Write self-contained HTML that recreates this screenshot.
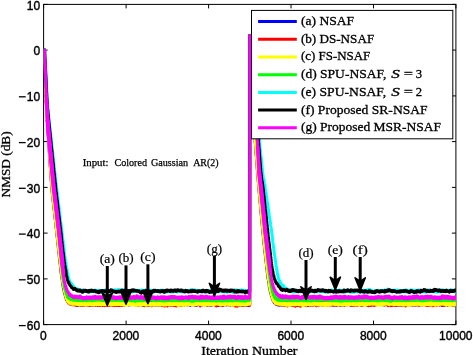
<!DOCTYPE html><html><head><meta charset="utf-8"><style>html,body{margin:0;padding:0;background:#fff}svg{display:block;will-change:transform}text{font-family:"Liberation Sans",sans-serif;fill:#000;stroke:#000;stroke-width:.4px}.s{font-family:"Liberation Serif",serif;stroke-width:.3px}</style></head><body>
<svg width="473" height="355" viewBox="0 0 473 355">
<rect width="473" height="355" fill="#fff"/>
<defs><clipPath id="c"><rect x="43.6" y="4.4" width="412.3" height="320.2"/></clipPath></defs>
<g stroke="#000" stroke-width="1" fill="none">
<rect x="43.6" y="4.4" width="412.3" height="320.2"/>
<path d="M43.6 324.6v-4.0 M43.6 4.4v4.0"/>
<path d="M126.1 324.6v-4.0 M126.1 4.4v4.0"/>
<path d="M208.6 324.6v-4.0 M208.6 4.4v4.0"/>
<path d="M291.0 324.6v-4.0 M291.0 4.4v4.0"/>
<path d="M373.5 324.6v-4.0 M373.5 4.4v4.0"/>
<path d="M455.9 324.6v-4.0 M455.9 4.4v4.0"/>
<path d="M43.6 324.6h4.0 M455.9 324.6h-4.0"/>
<path d="M43.6 278.9h4.0 M455.9 278.9h-4.0"/>
<path d="M43.6 233.1h4.0 M455.9 233.1h-4.0"/>
<path d="M43.6 187.4h4.0 M455.9 187.4h-4.0"/>
<path d="M43.6 141.6h4.0 M455.9 141.6h-4.0"/>
<path d="M43.6 95.9h4.0 M455.9 95.9h-4.0"/>
<path d="M43.6 50.1h4.0 M455.9 50.1h-4.0"/>
<path d="M43.6 4.4h4.0 M455.9 4.4h-4.0"/>
</g>
<g clip-path="url(#c)" fill="none" stroke-width="3" stroke-linejoin="round">
<polyline stroke="#0000ff" points="43.6,50.1 43.8,50.1 44.0,50.1 44.1,50.1 44.3,50.1 44.5,50.1 44.6,53.1 44.7,59.2 44.8,62.5 45.0,66.3 45.2,70.7 45.3,75.5 45.5,80.8 45.6,84.5 45.7,85.8 45.8,90.5 46.0,94.9 46.2,99.1 46.3,103.0 46.5,106.7 46.6,109.2 46.7,110.1 46.8,113.2 47.0,116.0 47.2,118.6 47.3,121.1 47.5,123.6 47.6,126.1 47.7,126.7 47.9,129.2 48.0,131.7 48.2,134.2 48.4,136.7 48.5,139.2 48.6,141.1 48.7,141.7 48.8,144.2 49.0,146.7 49.2,149.2 49.3,151.7 49.5,154.2 49.6,156.1 49.7,156.7 49.8,159.2 50.0,161.7 50.2,164.2 50.3,166.7 50.5,169.2 50.6,171.1 50.7,171.7 50.8,174.2 51.0,176.7 51.2,179.0 51.3,181.3 51.5,183.4 51.6,185.5 51.7,186.0 51.9,187.9 52.0,189.8 52.2,191.5 52.3,193.1 52.5,194.7 52.6,195.7 52.7,196.1 52.8,197.5 53.0,199.1 53.2,200.5 53.3,202.0 53.5,203.6 53.6,204.4 53.7,204.9 53.8,206.2 54.0,208.1 54.2,209.3 54.3,210.7 54.5,212.1 54.6,213.6 54.7,213.6 54.8,215.3 55.0,216.7 55.2,218.2 55.3,219.8 55.5,221.1 55.6,222.8 55.7,223.1 55.9,224.3 56.0,226.0 56.2,227.4 56.3,228.9 56.5,230.4 56.6,231.9 56.7,231.7 56.8,232.8 57.0,235.1 57.2,236.3 57.3,237.7 57.5,239.4 57.6,240.7 57.7,240.9 57.8,242.2 58.0,244.0 58.2,245.7 58.3,248.0 58.5,248.8 58.6,250.1 58.7,250.3 58.8,251.4 59.0,253.0 59.2,254.9 59.3,256.8 59.5,258.5 59.6,259.6 59.7,259.9 59.9,261.3 60.0,262.4 60.2,263.6 60.3,264.9 60.5,267.1 60.6,267.8 60.6,267.4 60.7,267.7 60.8,269.4 61.0,270.9 61.2,272.9 61.3,273.9 61.5,275.0 61.6,276.5 61.7,276.2 61.7,275.8 61.8,277.5 62.0,278.2 62.2,279.2 62.3,280.7 62.5,282.2 62.6,283.1 62.6,282.9 62.7,282.1 62.8,284.4 63.0,285.2 63.2,286.4 63.3,286.9 63.5,287.3 63.6,289.3 63.9,288.2 64.4,293.0 64.9,293.0 65.4,296.2 65.9,295.7 66.4,299.4 66.9,297.9 67.4,300.6 67.9,299.0 68.4,302.1 68.9,301.0 69.4,302.5 69.9,301.4 70.4,303.3 70.9,300.7 71.4,303.7 71.9,302.1 72.4,303.9 72.9,302.6 73.4,304.3 73.9,302.6 74.4,304.5 74.9,303.0 75.4,304.2 75.9,302.4 76.4,304.7 76.9,303.3 77.4,305.4 77.9,303.0 78.4,304.8 78.9,302.8 79.4,305.2 79.9,303.4 80.4,305.1 80.9,303.2 81.4,305.2 81.9,302.9 82.4,305.1 82.9,302.6 83.4,304.2 83.9,302.7 84.4,304.3 84.9,302.5 85.4,304.6 85.9,302.6 86.4,304.6 86.9,302.6 87.4,304.9 87.9,302.4 88.4,304.5 88.9,302.8 89.4,304.7 89.9,302.8 90.4,305.4 90.9,303.3 91.4,305.0 91.9,302.6 92.4,304.8 92.9,303.2 93.4,304.8 93.9,303.2 94.4,304.8 94.9,303.0 95.4,304.8 95.9,303.3 96.4,305.6 96.9,303.0 97.4,305.4 97.9,303.6 98.4,305.0 98.9,302.7 99.4,304.8 99.9,302.9 100.4,305.0 100.9,302.7 101.4,304.3 101.9,303.0 102.4,305.3 102.9,303.1 103.4,304.9 103.9,302.3 104.4,305.1 104.9,303.0 105.4,304.9 105.9,302.8 106.4,304.7 106.9,303.0 107.4,305.0 107.9,302.7 108.4,304.5 108.9,302.6 109.4,304.1 109.9,302.3 110.4,303.9 110.9,301.9 111.4,304.5 111.9,302.6 112.4,304.6 112.9,302.9 113.4,304.9 113.9,303.4 114.4,305.0 114.9,303.0 115.4,304.8 115.9,303.0 116.4,305.0 116.9,303.2 117.4,305.0 117.9,303.5 118.4,305.2 118.9,303.5 119.4,305.2 119.9,303.2 120.4,304.9 120.9,303.1 121.4,304.9 121.9,302.9 122.4,304.4 122.9,302.2 123.4,304.4 123.9,302.4 124.4,304.9 124.9,302.7 125.4,304.6 125.9,302.3 126.4,304.1 126.9,302.5 127.4,304.4 127.9,303.3 128.4,304.8 128.9,302.8 129.4,304.8 129.9,302.8 130.4,304.6 130.9,302.5 131.4,304.4 131.9,302.3 132.4,304.4 132.9,302.7 133.4,304.5 133.9,302.3 134.4,303.9 134.9,303.1 135.4,304.9 135.9,303.4 136.4,305.1 136.9,302.9 137.4,304.9 137.9,302.5 138.4,304.3 138.9,302.7 139.4,304.1 139.9,302.3 140.4,304.4 140.9,302.7 141.4,304.5 141.9,303.4 142.4,305.0 142.9,303.0 143.4,304.9 143.9,303.1 144.4,305.1 144.9,303.0 145.4,304.8 145.9,303.2 146.4,305.0 146.9,303.1 147.4,304.7 147.9,303.0 148.4,305.2 148.9,303.2 149.4,305.3 149.9,302.7 150.4,304.7 150.9,302.6 151.4,304.6 151.9,302.6 152.4,304.5 152.9,302.2 153.4,303.9 153.9,302.4 154.4,304.3 154.9,303.0 155.4,305.1 155.9,303.5 156.4,305.0 156.9,303.1 157.4,305.0 157.9,302.9 158.4,304.6 158.9,303.1 159.4,304.7 159.9,302.5 160.4,304.5 160.9,302.7 161.4,304.9 161.9,303.4 162.4,305.0 162.9,303.4 163.4,304.9 163.9,303.3 164.4,305.1 164.9,303.2 165.4,304.5 165.9,302.9 166.4,304.7 166.9,302.6 167.4,304.9 167.9,303.1 168.4,304.9 168.9,302.9 169.4,304.8 169.9,303.4 170.4,304.9 170.9,303.1 171.4,304.9 171.9,302.8 172.4,304.6 172.9,302.6 173.4,304.4 173.9,303.0 174.4,304.7 174.9,302.1 175.4,304.5 175.9,302.6 176.4,304.2 176.9,303.0 177.4,304.6 177.9,302.9 178.4,304.7 178.9,302.9 179.4,304.9 179.9,303.2 180.4,305.0 180.9,302.7 181.4,304.9 181.9,303.1 182.4,304.6 182.9,303.1 183.4,304.6 183.9,302.6 184.4,304.8 184.9,302.5 185.4,304.3 185.9,302.6 186.4,304.5 186.9,301.7 187.4,304.2 187.9,302.3 188.4,303.6 188.9,301.6 189.4,304.3 189.9,302.7 190.4,305.4 190.9,302.8 191.4,304.4 191.9,302.8 192.4,304.7 192.9,303.3 193.4,304.5 193.9,302.6 194.4,304.6 194.9,303.0 195.4,305.2 195.9,303.3 196.4,305.5 196.9,302.9 197.4,304.6 197.9,302.9 198.4,304.6 198.9,302.2 199.4,304.3 199.9,301.7 200.4,304.5 200.9,302.4 201.4,304.6 201.9,303.1 202.4,304.9 202.9,302.9 203.4,304.2 203.9,302.6 204.4,304.1 204.9,302.6 205.4,304.7 205.9,302.8 206.4,304.8 206.9,302.5 207.4,305.3 207.9,302.8 208.4,304.8 208.9,303.0 209.4,304.8 209.9,302.7 210.4,304.7 210.9,303.0 211.4,305.0 211.9,302.8 212.4,304.9 212.9,302.7 213.4,304.4 213.9,302.7 214.4,304.1 214.9,302.5 215.4,304.5 215.9,302.4 216.4,304.4 216.9,303.0 217.4,304.9 217.9,302.7 218.4,305.4 218.9,302.4 219.4,304.4 219.9,302.6 220.4,304.4 220.9,302.0 221.4,304.6 221.9,302.9 222.4,304.6 222.9,302.6 223.4,305.3 223.9,302.8 224.4,304.6 224.9,302.9 225.4,304.6 225.9,302.8 226.4,304.7 226.9,302.1 227.4,303.8 227.9,302.3 228.4,304.6 228.9,302.7 229.4,304.8 229.9,303.0 230.4,305.0 230.9,302.9 231.4,304.4 231.9,302.3 232.4,304.4 232.9,302.9 233.4,304.5 233.9,303.1 234.4,304.9 234.9,302.8 235.4,304.9 235.9,303.3 236.4,305.2 236.9,303.7 237.4,305.4 237.9,303.7 238.4,305.5 238.9,303.2 239.4,304.5 239.9,303.1 240.4,304.8 240.9,303.1 241.4,305.3 241.9,303.1 242.4,305.2 242.9,302.9 243.4,305.1 243.9,303.2 244.4,305.2 244.9,303.0 245.4,304.5 245.9,302.9 246.4,304.8 246.9,303.3 247.4,305.5 247.9,303.6 248.4,305.6 248.9,303.6 249.4,305.3 249.7,304.8 249.8,35.5 249.8,36.3 250.0,39.6 250.2,42.8 250.3,46.1 250.5,49.4 250.6,51.8 250.7,52.6 250.8,55.9 251.0,59.2 251.2,62.4 251.3,65.7 251.5,69.0 251.6,71.4 251.7,72.2 251.8,75.5 252.0,78.7 252.2,82.0 252.3,85.3 252.5,88.5 252.6,91.8 252.7,92.6 252.9,95.9 253.0,99.1 253.2,102.4 253.3,105.7 253.5,108.9 253.6,111.4 253.7,112.2 253.8,115.5 254.0,118.7 254.2,122.0 254.3,125.2 254.5,128.3 254.6,130.5 254.7,131.3 254.8,134.2 255.0,136.9 255.2,139.6 255.3,142.1 255.5,144.6 255.6,146.3 255.7,146.9 255.8,149.1 256.0,151.3 256.1,153.4 256.3,155.5 256.5,157.7 256.6,159.8 256.7,160.3 256.9,162.4 257.0,164.6 257.2,166.7 257.3,168.8 257.5,170.9 257.6,172.5 257.7,173.1 257.8,175.2 258.0,177.3 258.2,179.4 258.3,181.5 258.5,183.5 258.6,185.0 258.7,185.5 258.8,187.5 259.0,189.4 259.2,191.3 259.3,193.2 259.5,195.0 259.6,196.3 259.7,196.8 259.8,198.4 260.0,200.4 260.1,201.9 260.3,204.0 260.5,205.6 260.6,207.4 260.7,207.9 260.8,209.8 261.0,211.5 261.2,213.3 261.3,215.4 261.5,216.8 261.6,218.4 261.7,218.8 261.8,220.3 262.0,222.3 262.2,224.1 262.3,225.7 262.5,227.8 262.6,229.2 262.7,229.3 262.8,231.6 263.0,233.0 263.2,234.6 263.3,236.4 263.5,237.9 263.6,238.8 263.7,240.0 263.8,241.3 264.0,242.5 264.1,244.6 264.3,245.5 264.5,247.7 264.6,248.7 264.6,248.4 264.7,249.4 264.7,248.9 264.8,250.9 265.0,252.1 265.2,253.3 265.3,254.8 265.5,256.7 265.6,257.2 265.6,256.7 265.7,258.2 265.8,259.2 266.0,260.3 266.2,261.8 266.3,262.9 266.5,264.1 266.6,265.9 266.7,266.8 266.7,266.4 266.8,268.6 267.0,268.4 267.2,270.2 267.3,272.7 267.5,273.0 267.5,274.5 267.6,274.1 267.7,275.5 267.7,275.1 267.8,276.4 268.0,277.9 268.1,278.6 268.3,279.4 268.5,280.9 268.6,282.4 268.9,281.9 269.4,287.7 269.9,288.1 270.4,292.2 270.9,292.5 271.4,295.8 271.9,295.7 272.4,299.3 272.9,298.6 273.4,301.2 273.9,300.3 274.4,302.7 274.9,301.4 275.4,303.7 275.9,302.0 276.4,304.1 276.9,302.5 277.4,304.6 277.9,302.7 278.4,305.0 278.9,303.1 279.4,305.1 279.9,302.7 280.4,304.8 280.9,303.0 281.4,305.0 281.9,302.6 282.4,304.6 282.9,302.4 283.4,304.5 283.9,302.7 284.4,305.0 284.9,302.6 285.4,304.4 285.9,302.2 286.4,304.2 286.9,302.6 287.4,304.3 287.9,302.5 288.4,304.4 288.9,302.4 289.4,303.9 289.9,302.2 290.4,304.3 290.9,302.4 291.4,304.2 291.9,303.0 292.4,304.7 292.9,303.7 293.4,305.3 293.9,303.4 294.4,305.3 294.9,303.0 295.4,305.2 295.9,303.6 296.4,304.5 296.9,303.2 297.4,305.5 297.9,303.7 298.4,305.3 298.9,302.4 299.4,304.8 299.9,302.5 300.4,304.7 300.9,303.4 301.4,304.7 301.9,303.5 302.4,305.3 302.9,302.7 303.4,304.4 303.9,301.8 304.4,304.3 304.9,302.8 305.4,305.3 305.9,302.9 306.4,305.5 306.9,302.8 307.4,304.9 307.9,302.5 308.4,305.3 308.9,301.8 309.4,304.4 309.9,302.1 310.4,304.3 310.9,302.6 311.4,304.2 311.9,303.3 312.4,304.7 312.9,302.8 313.4,304.9 313.9,302.9 314.4,304.4 314.9,302.4 315.4,304.0 315.9,302.8 316.4,304.6 316.9,302.9 317.4,304.5 317.9,303.0 318.4,304.6 318.9,302.7 319.4,304.7 319.9,303.3 320.4,304.6 320.9,302.9 321.4,304.2 321.9,303.1 322.4,305.2 322.9,302.7 323.4,305.5 323.9,302.9 324.4,305.4 324.9,302.8 325.4,305.3 325.9,302.8 326.4,304.7 326.9,302.6 327.4,304.4 327.9,302.8 328.4,304.3 328.9,303.2 329.4,304.2 329.9,302.7 330.4,304.4 330.9,302.5 331.4,304.5 331.9,302.7 332.4,304.6 332.9,302.6 333.4,305.0 333.9,303.0 334.4,305.1 334.9,302.9 335.4,305.1 335.9,302.5 336.4,305.6 336.9,303.2 337.4,304.8 337.9,302.7 338.4,304.8 338.9,303.3 339.4,305.1 339.9,302.5 340.4,305.2 340.9,302.3 341.4,304.6 341.9,303.2 342.4,304.6 342.9,302.8 343.4,304.4 343.9,303.0 344.4,305.1 344.9,302.1 345.4,304.5 345.9,302.6 346.4,304.5 346.9,303.1 347.4,304.6 347.9,302.2 348.4,304.4 348.9,302.7 349.4,304.3 349.9,303.4 350.4,305.0 350.9,302.8 351.4,304.7 351.9,302.8 352.4,304.6 352.9,303.1 353.4,304.9 353.9,302.6 354.4,304.4 354.9,303.0 355.4,304.3 355.9,302.6 356.4,304.6 356.9,302.2 357.4,304.9 357.9,302.5 358.4,304.3 358.9,302.7 359.4,304.5 359.9,303.0 360.4,305.0 360.9,303.2 361.4,304.8 361.9,303.1 362.4,305.3 362.9,302.5 363.4,304.8 363.9,302.1 364.4,304.7 364.9,302.2 365.4,304.2 365.9,302.3 366.4,304.4 366.9,302.7 367.4,304.3 367.9,302.1 368.4,304.4 368.9,303.3 369.4,304.9 369.9,303.0 370.4,305.0 370.9,302.7 371.4,305.1 371.9,303.0 372.4,304.5 372.9,302.8 373.4,304.6 373.9,303.1 374.4,305.0 374.9,302.6 375.4,304.6 375.9,302.7 376.4,304.5 376.9,302.4 377.4,304.1 377.9,301.7 378.4,304.5 378.9,302.2 379.4,304.2 379.9,302.0 380.4,304.2 380.9,302.3 381.4,304.2 381.9,302.7 382.4,304.6 382.9,302.8 383.4,304.0 383.9,302.7 384.4,304.9 384.9,302.1 385.4,304.5 385.9,302.8 386.4,304.1 386.9,302.6 387.4,304.6 387.9,302.8 388.4,304.8 388.9,302.5 389.4,304.7 389.9,302.6 390.4,305.0 390.9,303.0 391.4,304.6 391.9,302.7 392.4,304.9 392.9,302.9 393.4,304.8 393.9,303.1 394.4,304.9 394.9,303.0 395.4,304.7 395.9,302.4 396.4,305.2 396.9,302.8 397.4,304.7 397.9,303.1 398.4,305.0 398.9,302.9 399.4,305.3 399.9,302.5 400.4,304.8 400.9,302.5 401.4,305.2 401.9,303.0 402.4,304.8 402.9,303.5 403.4,305.4 403.9,303.6 404.4,305.1 404.9,302.8 405.4,304.6 405.9,301.8 406.4,304.7 406.9,302.7 407.4,304.2 407.9,302.7 408.4,304.3 408.9,303.0 409.4,304.3 409.9,302.5 410.4,304.5 410.9,303.1 411.4,305.1 411.9,302.3 412.4,305.3 412.9,302.8 413.4,304.3 413.9,302.9 414.4,304.5 414.9,303.1 415.4,305.1 415.9,303.3 416.4,305.0 416.9,302.7 417.4,304.6 417.9,302.6 418.4,304.7 418.9,303.1 419.4,305.2 419.9,302.6 420.4,304.3 420.9,303.4 421.4,304.9 421.9,302.2 422.4,304.5 422.9,302.9 423.4,304.5 423.9,302.8 424.4,304.4 424.9,302.7 425.4,304.4 425.9,302.6 426.4,304.6 426.9,302.4 427.4,304.8 427.9,302.0 428.4,304.0 428.9,301.7 429.4,304.6 429.9,302.4 430.4,304.8 430.9,303.2 431.4,304.8 431.9,302.9 432.4,304.8 432.9,303.3 433.4,305.4 433.9,302.7 434.4,304.7 434.9,302.8 435.4,304.3 435.9,303.1 436.4,305.2 436.9,302.8 437.4,304.5 437.9,302.3 438.4,304.4 438.9,303.2 439.4,305.0 439.9,302.7 440.4,304.1 440.9,302.6 441.4,304.5 441.9,303.3 442.4,305.4 442.9,303.2 443.4,305.2 443.9,303.5 444.4,304.9 444.9,303.6 445.4,305.0 445.9,303.0 446.4,304.9 446.9,302.7 447.4,305.2 447.9,303.0 448.4,304.5 448.9,303.1 449.4,304.3 449.9,302.7 450.4,304.2 450.9,302.4 451.4,304.3 451.9,302.3 452.4,304.7 452.9,303.3 453.4,305.1 453.9,303.1 454.4,305.1 454.9,303.5 455.4,305.6 455.9,303.6 456.4,304.8"/>
<polyline stroke="#ff0000" points="43.6,50.1 43.8,50.1 44.0,50.1 44.1,50.1 44.3,50.1 44.5,50.1 44.6,52.8 44.7,58.9 44.8,62.2 45.0,66.0 45.2,70.2 45.3,75.0 45.5,80.2 45.6,84.0 45.7,85.2 45.8,89.9 46.0,94.4 46.2,98.5 46.3,102.5 46.5,106.1 46.6,108.7 46.7,109.5 46.8,112.6 47.0,115.5 47.2,118.0 47.3,120.5 47.5,123.0 47.6,125.5 47.7,126.1 47.9,128.6 48.0,131.0 48.2,133.5 48.4,136.0 48.5,138.5 48.6,140.3 48.7,140.9 48.8,143.4 49.0,145.9 49.2,148.4 49.3,150.8 49.5,153.3 49.6,155.2 49.7,155.8 49.8,158.3 50.0,160.7 50.2,163.2 50.3,165.7 50.5,168.2 50.6,170.0 50.7,170.6 50.8,173.1 51.0,175.6 51.2,178.0 51.3,180.2 51.5,182.4 51.6,184.5 51.7,185.0 51.9,187.0 52.0,188.9 52.2,190.7 52.3,192.3 52.5,193.9 52.6,195.0 52.7,195.4 52.8,196.9 53.0,198.4 53.2,199.8 53.3,201.2 53.5,202.6 53.6,203.9 53.7,204.3 53.8,205.7 54.0,207.2 54.2,208.4 54.3,209.9 54.5,211.3 54.6,212.7 54.7,212.8 54.8,214.3 55.0,215.7 55.2,217.1 55.3,218.8 55.5,220.1 55.6,221.6 55.7,221.6 55.9,223.4 56.0,224.9 56.2,226.0 56.3,227.8 56.5,229.1 56.6,230.1 56.6,229.8 56.7,230.6 56.8,232.0 57.0,233.4 57.2,235.3 57.3,236.5 57.5,238.2 57.6,239.5 57.7,240.0 57.8,241.2 58.0,242.9 58.2,244.5 58.3,245.2 58.5,246.6 58.6,248.4 58.7,249.2 58.7,248.4 58.8,250.5 59.0,252.5 59.2,253.0 59.3,254.7 59.5,255.7 59.6,257.3 59.7,257.5 59.9,260.2 60.0,261.3 60.2,262.3 60.3,263.6 60.5,265.3 60.6,266.5 60.7,266.9 60.7,266.4 60.8,268.1 61.0,269.7 61.2,271.1 61.3,272.8 61.5,273.6 61.6,274.2 61.6,274.1 61.7,274.5 61.7,274.2 61.8,274.7 62.0,276.9 62.2,278.0 62.3,279.3 62.5,280.4 62.6,281.1 62.9,281.8 63.4,287.1 63.9,287.1 64.4,292.1 64.9,292.0 65.4,296.1 65.9,295.3 66.4,299.5 66.9,298.4 67.4,301.6 67.9,300.3 68.4,303.1 68.9,301.0 69.4,303.2 69.9,302.0 70.4,304.3 70.9,302.3 71.4,304.4 71.9,302.5 72.4,304.6 72.9,302.7 73.4,304.8 73.9,303.0 74.4,304.5 74.9,302.7 75.4,305.2 75.9,302.7 76.4,305.0 76.9,303.3 77.4,305.3 77.9,303.2 78.4,304.9 78.9,302.3 79.4,304.6 79.9,302.9 80.4,305.1 80.9,303.2 81.4,305.0 81.9,303.1 82.4,305.4 82.9,302.9 83.4,305.3 83.9,303.0 84.4,305.1 84.9,302.5 85.4,304.8 85.9,303.0 86.4,304.7 86.9,303.5 87.4,305.1 87.9,303.2 88.4,305.5 88.9,303.3 89.4,305.6 89.9,303.0 90.4,304.9 90.9,302.8 91.4,304.7 91.9,303.4 92.4,305.2 92.9,303.0 93.4,305.3 93.9,302.9 94.4,304.4 94.9,302.6 95.4,304.8 95.9,303.4 96.4,305.6 96.9,303.3 97.4,305.1 97.9,302.9 98.4,305.1 98.9,302.6 99.4,305.2 99.9,302.9 100.4,305.5 100.9,303.2 101.4,304.8 101.9,302.8 102.4,305.2 102.9,303.2 103.4,305.6 103.9,303.6 104.4,305.6 104.9,303.6 105.4,305.3 105.9,303.9 106.4,305.5 106.9,303.2 107.4,305.4 107.9,302.5 108.4,305.1 108.9,303.1 109.4,305.2 109.9,302.2 110.4,305.0 110.9,302.4 111.4,305.3 111.9,303.1 112.4,305.2 112.9,303.1 113.4,305.1 113.9,303.6 114.4,305.6 114.9,303.7 115.4,305.3 115.9,302.4 116.4,305.2 116.9,302.6 117.4,304.4 117.9,303.2 118.4,305.4 118.9,303.3 119.4,305.6 119.9,302.7 120.4,305.2 120.9,302.9 121.4,304.4 121.9,303.3 122.4,305.5 122.9,303.1 123.4,304.7 123.9,303.0 124.4,304.6 124.9,302.6 125.4,304.3 125.9,302.5 126.4,304.6 126.9,302.9 127.4,304.5 127.9,302.9 128.4,304.9 128.9,302.8 129.4,304.5 129.9,302.1 130.4,304.5 130.9,302.4 131.4,304.8 131.9,302.9 132.4,304.4 132.9,302.2 133.4,304.4 133.9,302.5 134.4,304.2 134.9,302.9 135.4,304.6 135.9,303.2 136.4,305.2 136.9,303.2 137.4,305.5 137.9,303.2 138.4,305.1 138.9,303.2 139.4,304.7 139.9,302.6 140.4,304.6 140.9,302.5 141.4,304.5 141.9,303.0 142.4,305.2 142.9,303.1 143.4,304.9 143.9,304.0 144.4,305.7 144.9,303.3 145.4,305.1 145.9,303.4 146.4,305.6 146.9,303.3 147.4,305.3 147.9,302.9 148.4,304.9 148.9,302.9 149.4,304.7 149.9,304.1 150.4,305.5 150.9,303.5 151.4,305.7 151.9,303.2 152.4,305.3 152.9,303.0 153.4,304.9 153.9,303.2 154.4,304.9 154.9,302.8 155.4,304.8 155.9,303.2 156.4,304.8 156.9,303.0 157.4,304.9 157.9,302.6 158.4,304.7 158.9,303.0 159.4,305.1 159.9,303.3 160.4,304.7 160.9,302.2 161.4,305.3 161.9,302.9 162.4,305.2 162.9,303.5 163.4,305.4 163.9,303.9 164.4,306.0 164.9,304.0 165.4,305.7 165.9,303.1 166.4,305.2 166.9,303.4 167.4,306.0 167.9,303.4 168.4,305.2 168.9,303.2 169.4,305.6 169.9,303.3 170.4,305.1 170.9,302.6 171.4,304.8 171.9,302.7 172.4,304.6 172.9,303.3 173.4,305.4 173.9,303.0 174.4,305.6 174.9,303.6 175.4,305.3 175.9,303.4 176.4,306.0 176.9,303.4 177.4,305.4 177.9,302.9 178.4,304.7 178.9,302.9 179.4,304.4 179.9,302.2 180.4,305.4 180.9,303.1 181.4,305.1 181.9,303.2 182.4,304.9 182.9,302.9 183.4,305.1 183.9,303.4 184.4,305.0 184.9,302.6 185.4,304.7 185.9,303.2 186.4,304.8 186.9,302.6 187.4,304.9 187.9,302.7 188.4,304.8 188.9,302.4 189.4,304.5 189.9,302.6 190.4,304.7 190.9,302.4 191.4,304.3 191.9,302.5 192.4,304.4 192.9,302.9 193.4,304.6 193.9,303.3 194.4,304.7 194.9,303.0 195.4,305.0 195.9,302.9 196.4,304.9 196.9,302.2 197.4,304.4 197.9,302.6 198.4,304.1 198.9,303.0 199.4,304.4 199.9,303.0 200.4,305.9 200.9,302.2 201.4,304.9 201.9,302.4 202.4,304.4 202.9,302.4 203.4,304.6 203.9,302.4 204.4,304.7 204.9,303.3 205.4,304.8 205.9,303.1 206.4,305.0 206.9,303.3 207.4,305.1 207.9,303.0 208.4,304.7 208.9,303.2 209.4,305.0 209.9,302.7 210.4,305.1 210.9,303.0 211.4,304.5 211.9,302.3 212.4,304.8 212.9,302.3 213.4,304.6 213.9,303.0 214.4,304.6 214.9,302.9 215.4,305.2 215.9,303.3 216.4,306.0 216.9,303.0 217.4,304.7 217.9,302.6 218.4,304.8 218.9,303.1 219.4,304.9 219.9,303.3 220.4,305.1 220.9,302.9 221.4,305.0 221.9,302.8 222.4,305.5 222.9,302.6 223.4,304.4 223.9,302.8 224.4,304.7 224.9,302.4 225.4,304.4 225.9,302.6 226.4,304.7 226.9,303.1 227.4,304.8 227.9,302.5 228.4,304.4 228.9,303.1 229.4,305.1 229.9,303.2 230.4,304.6 230.9,302.7 231.4,304.7 231.9,303.3 232.4,304.9 232.9,303.1 233.4,305.6 233.9,303.2 234.4,305.4 234.9,303.3 235.4,306.1 235.9,303.7 236.4,305.3 236.9,303.9 237.4,306.2 237.9,303.3 238.4,305.1 238.9,302.6 239.4,305.1 239.9,303.2 240.4,305.1 240.9,303.7 241.4,305.3 241.9,303.2 242.4,305.1 242.9,303.0 243.4,305.0 243.9,303.3 244.4,305.2 244.9,302.5 245.4,305.0 245.9,303.4 246.4,304.7 246.9,303.0 247.4,304.9 247.9,302.7 248.4,304.7 248.9,303.4 249.4,305.4 249.7,304.2 249.8,35.5 249.8,36.3 250.0,39.5 250.2,42.8 250.3,46.0 250.5,49.2 250.6,51.7 250.7,52.5 250.8,55.7 251.0,58.9 251.2,62.2 251.3,65.4 251.5,68.6 251.6,71.0 251.7,71.8 251.8,75.1 252.0,78.3 252.2,81.5 252.3,84.8 252.5,88.0 252.6,91.2 252.7,92.0 252.9,95.3 253.0,98.5 253.2,101.7 253.3,105.0 253.5,108.2 253.6,110.6 253.7,111.4 253.8,114.7 254.0,117.9 254.2,121.1 254.3,124.3 254.5,127.4 254.6,129.7 254.7,130.4 254.8,133.3 255.0,136.1 255.2,138.8 255.3,141.3 255.5,143.8 255.6,145.5 255.7,146.1 255.8,148.3 256.0,150.5 256.1,152.6 256.3,154.7 256.5,156.8 256.6,158.9 256.7,159.4 256.9,161.5 257.0,163.6 257.2,165.7 257.3,167.9 257.5,170.0 257.6,171.5 257.7,172.1 257.8,174.2 258.0,176.3 258.2,178.4 258.3,180.4 258.5,182.5 258.6,183.9 258.7,184.4 258.8,186.4 259.0,188.3 259.2,190.2 259.3,192.0 259.5,193.9 259.6,195.2 259.7,195.7 259.8,197.4 260.0,199.2 260.1,200.9 260.3,202.7 260.5,204.6 260.6,206.4 260.7,206.7 260.8,208.4 261.0,210.1 261.2,212.0 261.3,213.7 261.5,215.4 261.6,216.8 261.7,217.4 261.7,217.3 261.8,219.1 262.0,220.5 262.2,222.4 262.3,224.6 262.5,226.0 262.6,226.9 262.7,227.5 262.8,229.4 263.0,231.4 263.2,232.5 263.3,234.6 263.5,236.5 263.6,237.6 263.7,237.3 263.8,239.2 264.0,240.6 264.1,241.9 264.3,243.9 264.5,245.4 264.6,247.1 264.7,247.3 264.8,249.3 265.0,249.9 265.2,251.5 265.3,253.2 265.5,254.9 265.6,255.9 265.7,255.7 265.8,258.2 266.0,258.8 266.2,260.9 266.3,262.7 266.5,263.9 266.6,264.7 266.6,264.4 266.7,265.0 266.8,266.2 267.0,268.0 267.2,269.7 267.3,270.3 267.5,271.8 267.6,272.5 267.6,272.0 267.7,272.8 267.8,273.9 268.0,274.5 268.1,275.9 268.3,277.5 268.5,278.0 268.6,280.0 268.6,279.6 268.7,279.5 268.8,279.4 268.8,281.7 269.0,282.2 269.2,283.1 269.3,283.7 269.5,284.9 269.6,285.9 269.9,285.8 270.4,291.0 270.9,290.7 271.4,294.9 271.9,294.4 272.4,298.0 272.9,297.7 273.4,300.6 273.9,299.6 274.4,302.6 274.9,301.3 275.4,303.2 275.9,301.8 276.4,304.0 276.9,302.2 277.4,304.1 277.9,302.4 278.4,304.4 278.9,302.5 279.4,304.4 279.9,302.8 280.4,304.8 280.9,303.0 281.4,305.0 281.9,303.1 282.4,305.1 282.9,303.5 283.4,304.8 283.9,303.3 284.4,305.2 284.9,303.0 285.4,305.1 285.9,302.9 286.4,305.3 286.9,304.0 287.4,306.0 287.9,302.8 288.4,304.9 288.9,302.6 289.4,304.3 289.9,302.6 290.4,305.0 290.9,303.2 291.4,305.3 291.9,302.9 292.4,305.2 292.9,302.9 293.4,305.2 293.9,303.1 294.4,305.1 294.9,303.3 295.4,306.2 295.9,303.1 296.4,305.1 296.9,302.6 297.4,305.1 297.9,303.3 298.4,305.4 298.9,303.5 299.4,305.2 299.9,303.8 300.4,306.2 300.9,304.1 301.4,305.8 301.9,303.3 302.4,305.5 302.9,303.2 303.4,304.7 303.9,302.9 304.4,304.8 304.9,302.9 305.4,304.9 305.9,303.3 306.4,305.7 306.9,303.4 307.4,305.6 307.9,303.0 308.4,305.3 308.9,302.7 309.4,305.0 309.9,302.8 310.4,305.2 310.9,303.3 311.4,304.7 311.9,302.9 312.4,305.2 312.9,302.1 313.4,304.6 313.9,302.6 314.4,304.8 314.9,303.0 315.4,304.6 315.9,303.4 316.4,305.8 316.9,303.7 317.4,305.1 317.9,303.2 318.4,305.1 318.9,302.8 319.4,304.9 319.9,302.7 320.4,304.2 320.9,303.1 321.4,304.7 321.9,302.6 322.4,304.6 322.9,303.0 323.4,305.4 323.9,303.3 324.4,305.3 324.9,303.7 325.4,305.0 325.9,303.1 326.4,305.1 326.9,302.7 327.4,305.0 327.9,303.2 328.4,304.8 328.9,303.0 329.4,305.0 329.9,302.8 330.4,304.9 330.9,302.9 331.4,305.0 331.9,302.9 332.4,305.1 332.9,303.0 333.4,304.4 333.9,302.7 334.4,304.9 334.9,302.8 335.4,304.7 335.9,302.9 336.4,305.3 336.9,302.8 337.4,304.8 337.9,302.9 338.4,304.7 338.9,303.3 339.4,304.9 339.9,303.2 340.4,304.7 340.9,302.9 341.4,304.9 341.9,303.3 342.4,305.4 342.9,303.2 343.4,304.5 343.9,302.8 344.4,304.9 344.9,302.8 345.4,304.6 345.9,302.9 346.4,305.0 346.9,302.5 347.4,304.8 347.9,302.3 348.4,304.5 348.9,302.7 349.4,304.4 349.9,302.5 350.4,304.9 350.9,303.0 351.4,305.3 351.9,303.4 352.4,305.1 352.9,303.4 353.4,304.8 353.9,303.2 354.4,305.6 354.9,303.4 355.4,305.5 355.9,302.6 356.4,305.0 356.9,302.5 357.4,304.9 357.9,302.8 358.4,304.9 358.9,302.8 359.4,304.8 359.9,302.0 360.4,304.3 360.9,302.2 361.4,305.2 361.9,303.0 362.4,304.6 362.9,302.5 363.4,305.1 363.9,302.5 364.4,304.5 364.9,302.7 365.4,304.5 365.9,303.0 366.4,304.9 366.9,303.3 367.4,305.0 367.9,303.3 368.4,305.7 368.9,303.4 369.4,305.2 369.9,303.8 370.4,305.4 370.9,303.1 371.4,304.9 371.9,302.7 372.4,304.9 372.9,303.4 373.4,304.9 373.9,302.9 374.4,305.4 374.9,302.8 375.4,304.3 375.9,302.4 376.4,304.7 376.9,302.6 377.4,304.3 377.9,302.9 378.4,304.5 378.9,302.8 379.4,304.2 379.9,301.7 380.4,304.7 380.9,302.2 381.4,303.8 381.9,302.5 382.4,304.7 382.9,303.3 383.4,304.8 383.9,303.0 384.4,304.4 384.9,303.1 385.4,304.9 385.9,302.2 386.4,304.8 386.9,302.8 387.4,304.8 387.9,303.3 388.4,305.7 388.9,303.2 389.4,305.2 389.9,302.6 390.4,304.9 390.9,303.5 391.4,305.6 391.9,303.4 392.4,305.2 392.9,303.1 393.4,304.8 393.9,303.1 394.4,305.2 394.9,303.0 395.4,305.3 395.9,303.0 396.4,305.1 396.9,302.7 397.4,305.2 397.9,302.6 398.4,305.1 398.9,302.8 399.4,304.8 399.9,303.2 400.4,305.0 400.9,302.4 401.4,305.3 401.9,303.0 402.4,305.2 402.9,302.3 403.4,305.1 403.9,303.4 404.4,305.5 404.9,304.0 405.4,306.0 405.9,303.0 406.4,305.0 406.9,303.1 407.4,304.8 407.9,303.1 408.4,304.8 408.9,302.7 409.4,304.6 409.9,302.9 410.4,304.8 410.9,303.1 411.4,305.1 411.9,302.9 412.4,305.0 412.9,302.5 413.4,304.9 413.9,303.3 414.4,304.8 414.9,303.1 415.4,305.0 415.9,303.0 416.4,304.9 416.9,303.1 417.4,304.5 417.9,303.0 418.4,304.8 418.9,303.2 419.4,305.2 419.9,303.3 420.4,304.6 420.9,302.5 421.4,304.4 421.9,302.9 422.4,305.1 422.9,302.5 423.4,304.6 423.9,303.1 424.4,304.6 424.9,302.8 425.4,305.0 425.9,303.1 426.4,304.8 426.9,302.5 427.4,305.4 427.9,303.1 428.4,304.5 428.9,302.9 429.4,305.4 429.9,303.3 430.4,304.8 430.9,303.0 431.4,304.9 431.9,303.7 432.4,305.7 432.9,303.5 433.4,305.5 433.9,302.4 434.4,305.3 434.9,303.3 435.4,305.5 435.9,303.6 436.4,305.4 436.9,302.9 437.4,304.8 437.9,302.9 438.4,304.8 438.9,303.1 439.4,304.5 439.9,303.1 440.4,304.7 440.9,303.0 441.4,305.2 441.9,302.9 442.4,304.6 442.9,302.6 443.4,304.8 443.9,302.9 444.4,305.4 444.9,303.0 445.4,304.6 445.9,303.1 446.4,304.6 446.9,302.6 447.4,304.3 447.9,302.6 448.4,304.6 448.9,302.9 449.4,305.2 449.9,302.7 450.4,305.1 450.9,302.6 451.4,304.7 451.9,302.9 452.4,305.1 452.9,303.2 453.4,305.1 453.9,303.2 454.4,305.2 454.9,303.2 455.4,304.8 455.9,303.2 456.4,305.3"/>
<polyline stroke="#ffff00" points="43.6,50.1 43.8,50.1 44.0,50.1 44.1,50.1 44.3,50.1 44.5,50.1 44.6,52.8 44.7,58.9 44.8,62.2 45.0,66.0 45.2,70.2 45.3,75.0 45.5,80.2 45.6,84.0 45.7,85.2 45.8,89.9 46.0,94.4 46.2,98.5 46.3,102.5 46.5,106.1 46.6,108.7 46.7,109.5 46.8,112.6 47.0,115.5 47.2,118.0 47.3,120.5 47.5,123.0 47.6,125.5 47.7,126.1 47.9,128.6 48.0,131.0 48.2,133.5 48.4,136.0 48.5,138.5 48.6,140.3 48.7,140.9 48.8,143.4 49.0,145.9 49.2,148.4 49.3,150.8 49.5,153.3 49.6,155.2 49.7,155.8 49.8,158.3 50.0,160.7 50.2,163.2 50.3,165.7 50.5,168.2 50.6,170.0 50.7,170.6 50.8,173.1 51.0,175.6 51.2,178.0 51.3,180.2 51.5,182.4 51.6,184.5 51.7,185.0 51.9,187.0 52.0,188.9 52.2,190.7 52.3,192.3 52.5,193.8 52.6,195.0 52.7,195.3 52.8,196.8 53.0,198.2 53.2,199.8 53.3,201.2 53.5,202.6 53.6,203.8 53.7,204.1 53.8,205.6 54.0,207.0 54.2,208.4 54.3,209.8 54.5,211.4 54.6,212.3 54.7,212.7 54.8,214.1 55.0,215.5 55.2,217.0 55.3,218.8 55.5,220.0 55.6,221.6 55.7,221.7 55.9,223.3 56.0,224.8 56.2,226.5 56.3,227.6 56.5,229.4 56.6,230.0 56.6,229.7 56.7,230.9 56.8,232.5 57.0,233.9 57.2,234.8 57.3,236.3 57.5,238.2 57.6,239.1 57.7,239.3 57.8,241.3 58.0,242.6 58.2,244.2 58.3,245.4 58.5,247.0 58.6,248.4 58.6,248.0 58.7,249.0 58.7,248.9 58.8,250.5 59.0,251.5 59.2,252.7 59.3,255.0 59.5,256.2 59.6,257.5 59.7,257.2 59.9,259.4 60.0,260.6 60.2,261.9 60.3,263.0 60.5,265.0 60.6,265.9 60.7,266.6 60.8,266.5 60.8,266.6 61.0,268.6 61.2,270.1 61.3,271.5 61.5,273.2 61.6,273.9 61.6,273.8 61.7,274.4 61.7,274.0 61.8,276.3 62.0,276.7 62.2,278.2 62.3,278.9 62.5,280.1 62.6,281.3 62.7,280.5 62.8,282.5 63.0,283.1 63.2,284.4 63.3,285.3 63.5,285.9 63.6,287.1 63.6,286.7 63.9,286.9 64.4,291.6 64.9,291.9 65.4,295.5 65.9,295.0 66.4,298.7 66.9,298.0 67.4,301.0 67.9,300.0 68.4,302.3 68.9,301.0 69.4,302.8 69.9,301.6 70.4,303.6 70.9,302.1 71.4,303.7 71.9,302.5 72.4,304.4 72.9,302.7 73.4,304.2 73.9,302.0 74.4,304.3 74.9,302.4 75.4,303.9 75.9,302.6 76.4,304.3 76.9,302.4 77.4,304.5 77.9,302.7 78.4,304.6 78.9,303.3 79.4,305.1 79.9,303.3 80.4,304.7 80.9,303.4 81.4,304.9 81.9,303.6 82.4,304.8 82.9,303.0 83.4,304.7 83.9,302.8 84.4,304.2 84.9,302.9 85.4,304.9 85.9,302.9 86.4,304.6 86.9,303.3 87.4,304.9 87.9,303.1 88.4,304.9 88.9,302.8 89.4,304.6 89.9,302.7 90.4,304.2 90.9,302.5 91.4,304.9 91.9,303.0 92.4,304.3 92.9,302.8 93.4,304.9 93.9,302.8 94.4,304.5 94.9,303.6 95.4,304.5 95.9,302.5 96.4,305.0 96.9,303.0 97.4,304.5 97.9,302.9 98.4,304.6 98.9,302.8 99.4,304.4 99.9,303.1 100.4,304.8 100.9,302.6 101.4,304.9 101.9,303.2 102.4,304.4 102.9,303.3 103.4,304.7 103.9,303.3 104.4,304.6 104.9,302.6 105.4,304.3 105.9,302.6 106.4,304.9 106.9,302.9 107.4,304.4 107.9,302.6 108.4,304.5 108.9,302.4 109.4,304.3 109.9,303.0 110.4,304.1 110.9,302.8 111.4,304.9 111.9,302.7 112.4,304.4 112.9,302.7 113.4,304.7 113.9,302.3 114.4,304.4 114.9,302.9 115.4,304.5 115.9,302.7 116.4,304.5 116.9,302.4 117.4,304.5 117.9,302.1 118.4,304.6 118.9,302.6 119.4,304.2 119.9,302.8 120.4,304.6 120.9,303.1 121.4,304.5 121.9,303.3 122.4,304.5 122.9,302.7 123.4,305.1 123.9,303.1 124.4,304.6 124.9,303.3 125.4,304.8 125.9,303.3 126.4,305.3 126.9,302.9 127.4,304.4 127.9,302.2 128.4,304.7 128.9,303.3 129.4,304.7 129.9,303.2 130.4,304.8 130.9,302.8 131.4,304.3 131.9,302.2 132.4,304.5 132.9,302.7 133.4,305.0 133.9,302.8 134.4,304.9 134.9,303.8 135.4,305.2 135.9,303.3 136.4,305.6 136.9,303.3 137.4,305.0 137.9,303.8 138.4,304.9 138.9,303.8 139.4,305.0 139.9,303.4 140.4,304.9 140.9,303.1 141.4,305.3 141.9,302.9 142.4,304.2 142.9,302.7 143.4,304.5 143.9,302.9 144.4,304.5 144.9,303.1 145.4,305.1 145.9,303.5 146.4,305.1 146.9,302.9 147.4,305.0 147.9,302.9 148.4,304.2 148.9,303.4 149.4,305.0 149.9,303.7 150.4,305.2 150.9,303.3 151.4,305.1 151.9,303.6 152.4,304.8 152.9,303.4 153.4,304.9 153.9,302.9 154.4,305.0 154.9,303.4 155.4,304.8 155.9,302.6 156.4,304.9 156.9,302.8 157.4,305.0 157.9,302.9 158.4,304.5 158.9,303.2 159.4,305.0 159.9,303.3 160.4,304.9 160.9,303.3 161.4,304.7 161.9,303.0 162.4,304.8 162.9,303.1 163.4,305.1 163.9,303.1 164.4,304.9 164.9,303.2 165.4,305.0 165.9,303.7 166.4,304.9 166.9,302.5 167.4,304.6 167.9,302.9 168.4,304.0 168.9,303.0 169.4,305.1 169.9,302.7 170.4,304.3 170.9,302.6 171.4,304.5 171.9,303.5 172.4,304.8 172.9,302.7 173.4,304.8 173.9,301.7 174.4,304.4 174.9,302.9 175.4,304.5 175.9,302.9 176.4,304.7 176.9,303.5 177.4,305.1 177.9,303.2 178.4,305.2 178.9,302.9 179.4,305.2 179.9,303.3 180.4,305.3 180.9,303.3 181.4,304.7 181.9,303.2 182.4,304.6 182.9,302.9 183.4,305.5 183.9,303.0 184.4,304.9 184.9,303.5 185.4,305.1 185.9,303.4 186.4,305.0 186.9,302.5 187.4,304.3 187.9,302.7 188.4,304.1 188.9,303.1 189.4,304.9 189.9,302.9 190.4,304.6 190.9,302.9 191.4,304.4 191.9,302.5 192.4,304.9 192.9,303.5 193.4,304.9 193.9,303.2 194.4,304.8 194.9,303.0 195.4,304.6 195.9,302.6 196.4,304.7 196.9,302.8 197.4,304.3 197.9,302.8 198.4,304.3 198.9,302.8 199.4,304.4 199.9,302.6 200.4,304.3 200.9,303.2 201.4,304.9 201.9,302.4 202.4,304.6 202.9,303.1 203.4,304.5 203.9,303.3 204.4,305.0 204.9,302.9 205.4,305.2 205.9,303.5 206.4,304.9 206.9,303.2 207.4,304.6 207.9,302.9 208.4,305.0 208.9,303.0 209.4,304.6 209.9,303.2 210.4,304.5 210.9,302.4 211.4,304.5 211.9,302.9 212.4,304.9 212.9,303.2 213.4,304.6 213.9,303.0 214.4,304.7 214.9,303.0 215.4,304.3 215.9,302.6 216.4,303.8 216.9,302.3 217.4,304.0 217.9,302.5 218.4,304.3 218.9,302.6 219.4,304.4 219.9,302.8 220.4,304.6 220.9,303.1 221.4,304.7 221.9,303.1 222.4,304.4 222.9,302.9 223.4,304.4 223.9,302.6 224.4,304.8 224.9,302.9 225.4,304.5 225.9,302.9 226.4,304.3 226.9,302.5 227.4,304.3 227.9,302.7 228.4,304.2 228.9,303.2 229.4,305.1 229.9,302.8 230.4,304.5 230.9,302.9 231.4,304.7 231.9,302.9 232.4,304.7 232.9,303.0 233.4,305.4 233.9,303.0 234.4,304.4 234.9,302.8 235.4,304.5 235.9,303.1 236.4,304.7 236.9,303.2 237.4,304.8 237.9,302.7 238.4,305.0 238.9,302.9 239.4,304.8 239.9,303.1 240.4,304.9 240.9,303.1 241.4,305.0 241.9,303.3 242.4,304.8 242.9,303.1 243.4,304.7 243.9,303.3 244.4,304.9 244.9,303.3 245.4,304.6 245.9,302.8 246.4,304.7 246.9,302.2 247.4,304.8 247.9,302.4 248.4,304.3 248.9,302.5 249.4,304.3 249.7,304.2 249.8,35.5 249.8,36.3 250.0,39.5 250.2,42.8 250.3,46.0 250.5,49.2 250.6,51.7 250.7,52.5 250.8,55.7 251.0,58.9 251.2,62.2 251.3,65.4 251.5,68.6 251.6,71.0 251.7,71.8 251.8,75.1 252.0,78.3 252.2,81.5 252.3,84.8 252.5,88.0 252.6,91.2 252.7,92.0 252.9,95.3 253.0,98.5 253.2,101.7 253.3,105.0 253.5,108.2 253.6,110.6 253.7,111.4 253.8,114.7 254.0,117.9 254.2,121.1 254.3,124.3 254.5,127.4 254.6,129.7 254.7,130.4 254.8,133.3 255.0,136.1 255.2,138.8 255.3,141.3 255.5,143.8 255.6,145.5 255.7,146.1 255.8,148.3 256.0,150.5 256.1,152.6 256.3,154.7 256.5,156.8 256.6,158.9 256.7,159.4 256.9,161.5 257.0,163.6 257.2,165.7 257.3,167.8 257.5,170.0 257.6,171.5 257.7,172.1 257.8,174.2 258.0,176.3 258.2,178.4 258.3,180.4 258.5,182.5 258.6,183.9 258.7,184.4 258.8,186.4 259.0,188.3 259.2,190.3 259.3,192.0 259.5,193.9 259.6,195.2 259.7,195.6 259.8,197.4 260.0,199.1 260.1,200.9 260.3,202.6 260.5,204.5 260.6,206.3 260.7,206.6 260.8,208.3 261.0,210.2 261.2,212.1 261.3,213.8 261.5,215.3 261.6,216.8 261.7,217.1 261.8,219.1 262.0,220.8 262.2,222.2 262.3,224.2 262.5,226.1 262.6,227.3 262.7,227.6 262.8,229.2 263.0,231.1 263.2,232.8 263.3,234.7 263.5,236.1 263.6,237.1 263.7,237.8 263.8,239.1 264.0,241.2 264.1,242.5 264.3,243.3 264.5,245.5 264.6,246.9 264.7,247.2 264.8,248.7 265.0,250.1 265.2,251.4 265.3,252.5 265.5,254.4 265.6,255.2 265.7,255.4 265.8,257.7 266.0,258.7 266.2,260.2 266.3,261.5 266.5,263.7 266.5,264.4 266.6,264.1 266.7,264.7 266.7,264.7 266.8,265.8 267.0,267.5 267.2,268.4 267.3,269.9 267.5,271.5 267.6,272.6 267.6,272.6 267.7,273.1 267.8,274.1 268.0,275.2 268.1,276.7 268.3,277.4 268.5,278.2 268.6,280.3 268.6,279.7 268.9,280.5 269.4,286.4 269.9,286.1 270.4,291.2 270.9,291.1 271.4,294.9 271.9,294.9 272.4,298.6 272.9,297.5 273.4,300.8 273.9,299.3 274.4,301.6 274.9,301.1 275.4,303.3 275.9,301.9 276.4,303.7 276.9,301.9 277.4,304.0 277.9,302.4 278.4,303.7 278.9,302.2 279.4,304.4 279.9,302.8 280.4,304.3 280.9,303.1 281.4,304.4 281.9,303.0 282.4,304.8 282.9,302.4 283.4,304.6 283.9,302.8 284.4,304.7 284.9,303.2 285.4,304.9 285.9,303.5 286.4,305.3 286.9,303.6 287.4,305.3 287.9,303.6 288.4,305.4 288.9,303.1 289.4,305.0 289.9,303.3 290.4,305.1 290.9,303.1 291.4,304.8 291.9,302.8 292.4,304.6 292.9,303.0 293.4,304.7 293.9,303.2 294.4,304.7 294.9,302.9 295.4,304.8 295.9,303.0 296.4,304.6 296.9,302.9 297.4,304.5 297.9,302.8 298.4,304.6 298.9,303.3 299.4,304.7 299.9,302.1 300.4,304.7 300.9,302.7 301.4,304.7 301.9,302.9 302.4,305.4 302.9,302.9 303.4,305.5 303.9,302.7 304.4,304.3 304.9,303.5 305.4,304.9 305.9,303.6 306.4,305.1 306.9,302.6 307.4,304.6 307.9,302.3 308.4,304.3 308.9,302.9 309.4,304.6 309.9,303.4 310.4,304.7 310.9,303.3 311.4,304.5 311.9,303.3 312.4,304.7 312.9,303.0 313.4,304.6 313.9,302.5 314.4,304.2 314.9,302.8 315.4,304.2 315.9,303.4 316.4,304.7 316.9,303.2 317.4,304.7 317.9,303.0 318.4,304.8 318.9,303.3 319.4,304.8 319.9,303.2 320.4,304.9 320.9,303.6 321.4,305.0 321.9,303.7 322.4,305.2 322.9,303.4 323.4,305.3 323.9,304.2 324.4,305.2 324.9,303.1 325.4,305.6 325.9,302.9 326.4,305.2 326.9,303.1 327.4,304.9 327.9,303.3 328.4,305.2 328.9,303.3 329.4,304.9 329.9,302.7 330.4,304.4 330.9,302.7 331.4,304.4 331.9,302.8 332.4,304.0 332.9,302.9 333.4,304.3 333.9,302.7 334.4,304.4 334.9,302.6 335.4,304.8 335.9,303.0 336.4,304.6 336.9,302.8 337.4,304.7 337.9,303.5 338.4,305.0 338.9,303.4 339.4,304.9 339.9,303.1 340.4,304.8 340.9,303.1 341.4,304.9 341.9,303.5 342.4,304.9 342.9,302.9 343.4,305.0 343.9,302.7 344.4,304.3 344.9,303.1 345.4,304.6 345.9,303.3 346.4,304.9 346.9,303.4 347.4,305.1 347.9,303.5 348.4,304.9 348.9,302.9 349.4,304.5 349.9,303.0 350.4,304.5 350.9,303.0 351.4,304.0 351.9,303.1 352.4,304.4 352.9,302.9 353.4,304.8 353.9,302.8 354.4,304.8 354.9,303.2 355.4,305.1 355.9,303.0 356.4,304.8 356.9,302.6 357.4,304.0 357.9,303.1 358.4,304.6 358.9,303.0 359.4,305.0 359.9,303.3 360.4,304.9 360.9,303.5 361.4,304.6 361.9,302.9 362.4,304.6 362.9,303.2 363.4,305.1 363.9,302.8 364.4,305.4 364.9,303.0 365.4,304.5 365.9,302.9 366.4,304.7 366.9,302.3 367.4,304.6 367.9,302.5 368.4,304.2 368.9,302.8 369.4,304.4 369.9,302.5 370.4,304.3 370.9,302.3 371.4,303.9 371.9,302.5 372.4,304.0 372.9,303.0 373.4,304.3 373.9,302.8 374.4,304.3 374.9,302.5 375.4,304.1 375.9,303.1 376.4,304.5 376.9,303.3 377.4,304.8 377.9,302.8 378.4,304.4 378.9,302.7 379.4,305.2 379.9,302.8 380.4,304.7 380.9,303.2 381.4,304.8 381.9,302.8 382.4,305.0 382.9,303.0 383.4,304.8 383.9,303.0 384.4,304.3 384.9,302.6 385.4,304.3 385.9,302.5 386.4,303.9 386.9,302.2 387.4,304.0 387.9,302.7 388.4,304.4 388.9,302.2 389.4,304.7 389.9,302.6 390.4,304.2 390.9,302.4 391.4,304.1 391.9,302.4 392.4,304.3 392.9,302.8 393.4,304.6 393.9,302.7 394.4,304.6 394.9,302.3 395.4,304.2 395.9,302.7 396.4,304.5 396.9,303.0 397.4,304.7 397.9,303.2 398.4,304.4 398.9,303.1 399.4,304.9 399.9,303.1 400.4,304.8 400.9,302.9 401.4,304.8 401.9,303.8 402.4,305.0 402.9,302.9 403.4,305.2 403.9,303.4 404.4,305.0 404.9,302.9 405.4,304.8 405.9,303.4 406.4,304.8 406.9,303.3 407.4,305.0 407.9,303.5 408.4,305.3 408.9,302.9 409.4,304.9 409.9,303.0 410.4,304.4 410.9,303.0 411.4,305.2 411.9,302.8 412.4,304.7 412.9,303.0 413.4,304.5 413.9,302.9 414.4,304.5 414.9,302.7 415.4,304.3 415.9,302.3 416.4,305.0 416.9,302.4 417.4,304.0 417.9,302.7 418.4,303.9 418.9,302.5 419.4,304.8 419.9,302.7 420.4,304.2 420.9,303.3 421.4,305.2 421.9,303.3 422.4,304.8 422.9,302.8 423.4,304.6 423.9,303.0 424.4,304.8 424.9,302.7 425.4,304.6 425.9,302.4 426.4,304.1 426.9,302.9 427.4,304.6 427.9,303.1 428.4,304.2 428.9,302.6 429.4,304.8 429.9,303.0 430.4,304.4 430.9,302.1 431.4,304.9 431.9,303.1 432.4,304.7 432.9,302.9 433.4,304.7 433.9,303.4 434.4,304.8 434.9,303.1 435.4,305.2 435.9,302.9 436.4,304.5 436.9,303.4 437.4,305.0 437.9,302.9 438.4,304.8 438.9,302.4 439.4,304.6 439.9,302.1 440.4,304.3 440.9,302.9 441.4,304.1 441.9,302.2 442.4,303.9 442.9,302.6 443.4,304.2 443.9,303.3 444.4,304.5 444.9,302.5 445.4,304.6 445.9,302.9 446.4,305.3 446.9,303.0 447.4,304.7 447.9,303.0 448.4,304.8 448.9,303.6 449.4,305.5 449.9,303.2 450.4,305.4 450.9,303.6 451.4,304.6 451.9,303.2 452.4,304.8 452.9,303.3 453.4,305.1 453.9,302.7 454.4,304.6 454.9,303.1 455.4,305.0 455.9,303.5 456.4,304.1"/>
<polyline stroke="#00ff00" points="43.6,50.1 43.8,50.1 44.0,50.1 44.1,50.1 44.3,50.1 44.5,50.1 44.6,50.1 44.7,56.3 44.8,58.8 45.0,61.8 45.2,65.2 45.3,69.0 45.5,73.2 45.6,76.5 45.7,77.6 45.8,82.0 46.0,86.3 46.2,90.4 46.3,94.2 46.5,97.8 46.6,100.4 46.7,101.2 46.8,104.4 47.0,107.3 47.2,110.0 47.3,112.5 47.5,114.7 47.6,116.8 47.7,117.3 47.9,119.4 48.0,121.4 48.2,123.4 48.4,125.5 48.5,127.5 48.6,129.1 48.7,129.6 48.8,131.6 49.0,133.7 49.2,135.7 49.3,137.8 49.5,139.8 49.6,141.3 49.7,141.8 49.8,143.9 50.0,145.9 50.2,148.0 50.3,150.0 50.5,152.1 50.6,153.6 50.7,154.1 50.8,156.2 51.0,158.2 51.2,160.2 51.3,162.3 51.5,164.3 51.6,166.4 51.7,166.9 51.9,168.9 52.0,171.0 52.2,173.0 52.3,175.1 52.5,177.1 52.6,178.6 52.7,179.1 52.8,181.0 53.0,182.9 53.2,184.8 53.3,186.5 53.5,188.2 53.6,189.5 53.7,189.8 53.8,191.4 54.0,192.9 54.2,194.4 54.3,195.8 54.5,197.3 54.6,198.3 54.7,198.7 54.8,200.0 55.0,201.5 55.2,202.9 55.3,204.2 55.5,205.7 55.6,207.0 55.7,207.4 55.9,208.8 56.0,210.2 56.2,211.6 56.3,213.1 56.5,214.3 56.6,215.5 56.7,216.0 56.8,217.3 57.0,218.7 57.2,220.0 57.3,221.7 57.5,222.9 57.6,224.0 57.7,224.2 57.8,225.4 58.0,227.1 58.2,228.6 58.3,230.1 58.5,231.9 58.6,232.9 58.7,233.0 58.8,234.9 59.0,236.8 59.2,238.5 59.3,240.4 59.5,242.1 59.6,243.9 59.7,244.2 59.9,246.3 60.0,248.1 60.2,250.0 60.3,251.2 60.5,253.7 60.6,254.8 60.7,254.7 60.8,256.4 61.0,258.7 61.2,260.6 61.3,262.4 61.5,263.4 61.6,264.8 61.7,265.3 61.8,266.5 62.0,268.4 62.2,269.5 62.3,271.3 62.5,273.1 62.6,275.0 62.7,274.5 62.8,276.0 63.0,277.8 63.2,279.4 63.3,279.9 63.5,280.5 63.6,281.9 63.9,282.4 64.4,287.7 64.9,287.7 65.4,291.1 65.9,291.4 66.4,294.2 66.9,294.0 67.4,297.0 67.9,296.4 68.4,298.0 68.9,297.2 69.4,298.9 69.9,298.0 70.4,299.1 70.9,298.2 71.4,299.5 71.9,298.6 72.4,299.9 72.9,298.8 73.4,300.1 73.9,299.1 74.4,300.3 74.9,299.2 75.4,300.1 75.9,299.0 76.4,300.5 76.9,299.4 77.4,300.3 77.9,299.5 78.4,300.5 78.9,299.6 79.4,300.4 79.9,299.3 80.4,300.7 80.9,299.2 81.4,300.5 81.9,298.9 82.4,300.6 82.9,299.6 83.4,300.7 83.9,299.3 84.4,300.3 84.9,298.9 85.4,300.3 85.9,299.5 86.4,300.7 86.9,299.2 87.4,300.7 87.9,299.2 88.4,300.5 88.9,299.4 89.4,300.3 89.9,299.1 90.4,300.3 90.9,298.8 91.4,300.6 91.9,299.2 92.4,300.8 92.9,299.3 93.4,300.2 93.9,299.2 94.4,300.3 94.9,298.8 95.4,300.1 95.9,299.0 96.4,300.2 96.9,298.4 97.4,299.6 97.9,298.4 98.4,299.4 98.9,298.4 99.4,299.6 99.9,298.7 100.4,300.0 100.9,299.6 101.4,300.5 101.9,299.4 102.4,300.3 102.9,299.0 103.4,300.2 103.9,298.9 104.4,300.1 104.9,299.3 105.4,300.2 105.9,299.4 106.4,300.4 106.9,299.4 107.4,300.6 107.9,298.9 108.4,300.1 108.9,298.9 109.4,299.8 109.9,299.1 110.4,300.2 110.9,298.5 111.4,299.7 111.9,298.6 112.4,300.1 112.9,299.0 113.4,300.4 113.9,299.4 114.4,300.3 114.9,299.0 115.4,300.2 115.9,299.2 116.4,300.5 116.9,299.2 117.4,300.3 117.9,299.3 118.4,300.3 118.9,298.6 119.4,300.4 119.9,299.2 120.4,300.4 120.9,299.2 121.4,300.4 121.9,299.3 122.4,300.3 122.9,299.2 123.4,300.8 123.9,299.2 124.4,300.4 124.9,299.4 125.4,300.7 125.9,299.0 126.4,300.4 126.9,299.1 127.4,300.1 127.9,299.2 128.4,300.3 128.9,299.3 129.4,300.4 129.9,298.8 130.4,300.2 130.9,299.4 131.4,300.7 131.9,299.7 132.4,300.7 132.9,299.5 133.4,300.8 133.9,299.7 134.4,300.7 134.9,299.7 135.4,301.4 135.9,299.7 136.4,301.0 136.9,299.5 137.4,300.6 137.9,298.9 138.4,300.4 138.9,299.7 139.4,300.7 139.9,299.4 140.4,300.4 140.9,299.4 141.4,300.6 141.9,299.5 142.4,300.7 142.9,299.1 143.4,300.6 143.9,299.4 144.4,300.3 144.9,299.2 145.4,300.6 145.9,299.3 146.4,300.3 146.9,299.2 147.4,300.2 147.9,299.1 148.4,300.5 148.9,299.2 149.4,300.3 149.9,298.4 150.4,300.0 150.9,298.8 151.4,300.2 151.9,298.8 152.4,300.4 152.9,298.8 153.4,300.2 153.9,299.0 154.4,300.4 154.9,299.6 155.4,300.6 155.9,299.5 156.4,300.8 156.9,299.8 157.4,300.7 157.9,299.3 158.4,300.3 158.9,299.3 159.4,300.1 159.9,299.2 160.4,300.6 160.9,299.1 161.4,300.2 161.9,299.4 162.4,300.7 162.9,299.8 163.4,301.0 163.9,299.8 164.4,300.8 164.9,299.6 165.4,300.9 165.9,299.1 166.4,300.7 166.9,299.7 167.4,300.6 167.9,299.5 168.4,300.4 168.9,299.3 169.4,300.3 169.9,299.3 170.4,300.4 170.9,299.5 171.4,300.6 171.9,299.6 172.4,300.8 172.9,299.3 173.4,300.5 173.9,299.2 174.4,300.5 174.9,299.2 175.4,300.6 175.9,298.7 176.4,300.0 176.9,299.1 177.4,300.1 177.9,299.2 178.4,300.3 178.9,299.4 179.4,300.9 179.9,299.2 180.4,300.3 180.9,298.7 181.4,300.2 181.9,299.3 182.4,300.3 182.9,299.7 183.4,300.8 183.9,299.5 184.4,300.6 184.9,299.3 185.4,300.6 185.9,299.4 186.4,300.4 186.9,299.1 187.4,300.6 187.9,299.3 188.4,300.5 188.9,299.1 189.4,300.5 189.9,299.4 190.4,300.7 190.9,299.3 191.4,301.3 191.9,300.2 192.4,301.2 192.9,299.7 193.4,301.3 193.9,299.6 194.4,300.8 194.9,299.3 195.4,300.5 195.9,299.6 196.4,300.2 196.9,299.1 197.4,300.6 197.9,299.5 198.4,300.4 198.9,299.5 199.4,300.6 199.9,299.0 200.4,300.5 200.9,299.2 201.4,300.7 201.9,299.3 202.4,300.6 202.9,299.1 203.4,300.4 203.9,299.3 204.4,300.5 204.9,299.3 205.4,300.5 205.9,299.3 206.4,300.3 206.9,299.3 207.4,300.5 207.9,299.4 208.4,300.5 208.9,299.3 209.4,300.3 209.9,299.4 210.4,300.7 210.9,299.2 211.4,300.6 211.9,299.4 212.4,300.8 212.9,299.2 213.4,300.6 213.9,299.1 214.4,300.3 214.9,299.4 215.4,300.8 215.9,299.9 216.4,301.1 216.9,299.4 217.4,300.6 217.9,299.5 218.4,300.7 218.9,299.4 219.4,300.6 219.9,299.6 220.4,300.6 220.9,299.7 221.4,300.8 221.9,299.7 222.4,301.1 222.9,299.5 223.4,300.6 223.9,299.0 224.4,300.8 224.9,298.9 225.4,299.8 225.9,298.7 226.4,300.6 226.9,299.3 227.4,301.0 227.9,299.5 228.4,300.8 228.9,299.2 229.4,300.8 229.9,298.9 230.4,300.5 230.9,299.5 231.4,300.6 231.9,299.7 232.4,300.9 232.9,299.4 233.4,300.5 233.9,299.2 234.4,300.6 234.9,299.1 235.4,300.2 235.9,299.2 236.4,300.4 236.9,299.2 237.4,300.2 237.9,299.7 238.4,300.6 238.9,298.9 239.4,300.7 239.9,299.7 240.4,300.8 240.9,299.9 241.4,301.0 241.9,299.8 242.4,300.7 242.9,299.6 243.4,301.0 243.9,299.9 244.4,300.9 244.9,300.1 245.4,301.1 245.9,299.9 246.4,300.8 246.9,299.2 247.4,300.3 247.9,299.0 248.4,300.3 248.9,299.3 249.4,300.4 249.7,299.8 249.8,35.5 249.8,36.1 250.0,38.5 250.2,40.9 250.3,43.3 250.5,45.7 250.6,47.5 250.7,48.1 250.8,50.5 251.0,52.9 251.2,55.3 251.3,57.7 251.5,60.1 251.6,62.0 251.7,62.6 251.8,65.0 252.0,67.4 252.2,69.8 252.3,72.2 252.5,74.6 252.6,77.0 252.7,77.6 252.9,80.0 253.0,82.4 253.2,84.8 253.3,87.2 253.5,89.6 253.6,91.4 253.7,92.0 253.8,94.4 254.0,96.8 254.2,99.2 254.3,101.6 254.5,104.0 254.6,105.8 254.7,106.4 254.8,108.8 255.0,111.2 255.2,113.6 255.3,116.0 255.5,118.4 255.6,120.2 255.7,120.9 255.8,123.3 256.0,125.7 256.1,128.1 256.3,130.4 256.5,132.8 256.6,135.2 256.7,135.8 256.9,138.1 257.0,140.4 257.2,142.7 257.3,145.0 257.5,147.3 257.6,149.0 257.7,149.6 257.8,151.8 258.0,154.1 258.2,156.3 258.3,158.6 258.5,160.9 258.6,162.5 258.7,163.1 258.8,165.4 259.0,167.6 259.2,169.9 259.3,172.1 259.5,174.4 259.6,176.1 259.7,176.6 259.8,178.8 260.0,181.0 260.1,183.0 260.3,185.1 260.5,187.0 260.6,188.9 260.7,189.4 260.8,191.2 261.0,193.0 261.2,194.8 261.3,196.4 261.5,198.0 261.6,199.3 261.7,199.7 261.8,201.3 262.0,203.1 262.2,204.7 262.3,206.5 262.5,208.2 262.6,209.3 262.7,209.8 262.8,211.2 263.0,213.0 263.2,214.8 263.3,216.2 263.5,217.9 263.6,219.1 263.7,219.6 263.8,221.3 264.0,222.9 264.1,224.6 264.3,226.2 264.5,227.7 264.6,229.5 264.7,229.5 264.8,231.4 265.0,233.0 265.2,235.1 265.3,236.2 265.5,238.3 265.6,239.5 265.7,239.9 265.8,241.9 266.0,243.4 266.2,245.2 266.3,247.0 266.5,248.2 266.6,249.8 266.7,249.8 266.8,252.0 267.0,253.1 267.2,255.0 267.3,256.4 267.5,257.7 267.6,258.8 267.7,259.4 267.7,259.3 267.8,260.7 268.0,261.8 268.1,263.5 268.3,264.6 268.5,266.4 268.6,267.5 268.6,267.5 268.7,268.2 268.8,269.4 269.0,271.1 269.2,272.9 269.3,274.2 269.5,274.6 269.6,275.5 269.7,276.2 269.7,276.1 269.8,277.1 270.0,278.3 270.2,279.2 270.3,280.7 270.5,281.6 270.5,282.3 270.6,282.0 270.9,282.5 271.4,287.7 271.9,287.2 272.4,292.2 272.9,291.9 273.4,295.1 273.9,294.6 274.4,297.0 274.9,296.0 275.4,298.5 275.9,297.8 276.4,299.3 276.9,298.5 277.4,300.2 277.9,298.8 278.4,300.2 278.9,299.1 279.4,300.5 279.9,298.7 280.4,300.0 280.9,299.2 281.4,300.7 281.9,298.8 282.4,300.4 282.9,298.6 283.4,300.4 283.9,299.1 284.4,300.3 284.9,299.3 285.4,300.2 285.9,299.1 286.4,300.0 286.9,299.1 287.4,300.8 287.9,299.2 288.4,300.3 288.9,299.2 289.4,300.0 289.9,299.2 290.4,300.1 290.9,299.2 291.4,300.7 291.9,299.2 292.4,300.5 292.9,299.4 293.4,300.6 293.9,299.4 294.4,300.7 294.9,299.2 295.4,300.5 295.9,299.2 296.4,300.5 296.9,299.2 297.4,300.8 297.9,299.2 298.4,300.6 298.9,298.7 299.4,300.2 299.9,299.1 300.4,300.4 300.9,299.1 301.4,300.2 301.9,299.4 302.4,300.3 302.9,299.6 303.4,300.8 303.9,299.4 304.4,300.6 304.9,298.9 305.4,300.3 305.9,299.5 306.4,300.3 306.9,299.3 307.4,301.0 307.9,299.4 308.4,300.4 308.9,299.3 309.4,300.5 309.9,299.4 310.4,301.0 310.9,299.6 311.4,300.9 311.9,299.4 312.4,300.4 312.9,299.1 313.4,300.5 313.9,298.8 314.4,300.2 314.9,298.9 315.4,299.9 315.9,298.8 316.4,300.0 316.9,299.0 317.4,300.1 317.9,299.0 318.4,300.8 318.9,299.0 319.4,300.0 319.9,299.0 320.4,300.0 320.9,299.1 321.4,300.4 321.9,299.2 322.4,300.0 322.9,298.9 323.4,300.0 323.9,298.6 324.4,300.0 324.9,298.7 325.4,299.8 325.9,298.6 326.4,299.8 326.9,298.9 327.4,300.3 327.9,299.1 328.4,300.3 328.9,299.0 329.4,300.4 329.9,299.1 330.4,300.1 330.9,299.5 331.4,300.8 331.9,299.7 332.4,300.6 332.9,299.4 333.4,300.5 333.9,299.4 334.4,300.7 334.9,298.9 335.4,300.6 335.9,299.2 336.4,300.5 336.9,299.3 337.4,300.7 337.9,299.6 338.4,300.9 338.9,299.3 339.4,300.9 339.9,299.5 340.4,300.8 340.9,300.1 341.4,301.2 341.9,299.7 342.4,300.8 342.9,299.0 343.4,301.0 343.9,298.9 344.4,300.4 344.9,299.4 345.4,300.4 345.9,299.5 346.4,300.6 346.9,299.4 347.4,300.8 347.9,299.3 348.4,300.5 348.9,298.7 349.4,300.1 349.9,299.4 350.4,300.4 350.9,299.7 351.4,301.0 351.9,299.0 352.4,300.6 352.9,299.5 353.4,300.4 353.9,299.2 354.4,300.8 354.9,299.2 355.4,300.4 355.9,299.4 356.4,300.6 356.9,299.4 357.4,300.6 357.9,299.1 358.4,300.6 358.9,298.5 359.4,299.8 359.9,298.6 360.4,299.7 360.9,298.7 361.4,299.9 361.9,299.1 362.4,300.0 362.9,299.4 363.4,300.3 363.9,299.0 364.4,300.7 364.9,299.3 365.4,300.4 365.9,299.3 366.4,300.5 366.9,299.2 367.4,300.4 367.9,299.2 368.4,300.4 368.9,299.6 369.4,300.6 369.9,299.3 370.4,300.5 370.9,299.2 371.4,300.4 371.9,299.0 372.4,300.4 372.9,299.2 373.4,300.1 373.9,299.1 374.4,300.1 374.9,299.3 375.4,300.3 375.9,299.3 376.4,300.7 376.9,299.6 377.4,300.6 377.9,299.5 378.4,300.7 378.9,299.1 379.4,300.6 379.9,298.9 380.4,300.2 380.9,299.0 381.4,300.3 381.9,299.1 382.4,300.3 382.9,299.2 383.4,300.2 383.9,298.5 384.4,300.4 384.9,299.5 385.4,300.4 385.9,299.6 386.4,300.6 386.9,299.7 387.4,300.5 387.9,299.5 388.4,300.8 388.9,299.9 389.4,300.9 389.9,300.3 390.4,301.3 390.9,300.0 391.4,301.2 391.9,299.4 392.4,300.5 392.9,299.3 393.4,300.4 393.9,299.2 394.4,300.2 394.9,299.2 395.4,300.3 395.9,299.4 396.4,300.6 396.9,298.7 397.4,300.1 397.9,299.1 398.4,300.2 398.9,299.0 399.4,300.3 399.9,299.1 400.4,300.5 400.9,299.3 401.4,300.5 401.9,299.4 402.4,300.6 402.9,298.8 403.4,300.3 403.9,298.9 404.4,300.3 404.9,299.1 405.4,300.8 405.9,299.5 406.4,300.7 406.9,299.3 407.4,300.6 407.9,299.2 408.4,300.2 408.9,299.2 409.4,300.4 409.9,299.1 410.4,300.1 410.9,299.0 411.4,300.4 411.9,298.8 412.4,300.3 412.9,298.7 413.4,300.0 413.9,299.1 414.4,300.2 414.9,299.3 415.4,300.4 415.9,299.1 416.4,300.2 416.9,299.1 417.4,300.2 417.9,298.7 418.4,300.3 418.9,299.1 419.4,300.1 419.9,299.2 420.4,300.4 420.9,299.7 421.4,300.8 421.9,299.5 422.4,300.9 422.9,299.6 423.4,300.6 423.9,299.5 424.4,300.4 424.9,299.2 425.4,300.4 425.9,299.0 426.4,300.3 426.9,298.8 427.4,300.2 427.9,298.9 428.4,300.0 428.9,299.0 429.4,300.2 429.9,298.7 430.4,299.9 430.9,298.8 431.4,299.9 431.9,298.7 432.4,299.9 432.9,299.2 433.4,300.1 433.9,299.1 434.4,300.3 434.9,298.8 435.4,300.0 435.9,298.6 436.4,300.6 436.9,298.7 437.4,300.2 437.9,299.3 438.4,300.3 438.9,299.2 439.4,300.5 439.9,299.3 440.4,300.3 440.9,299.1 441.4,300.9 441.9,299.3 442.4,300.5 442.9,299.4 443.4,300.3 443.9,299.0 444.4,300.5 444.9,299.1 445.4,300.2 445.9,299.3 446.4,300.5 446.9,299.3 447.4,300.5 447.9,299.3 448.4,300.0 448.9,299.1 449.4,300.5 449.9,299.2 450.4,300.3 450.9,299.8 451.4,300.5 451.9,299.6 452.4,300.9 452.9,299.8 453.4,300.6 453.9,299.1 454.4,300.2 454.9,299.1 455.4,300.1 455.9,299.3 456.4,300.2"/>
<polyline stroke="#00ffff" points="43.6,50.1 43.8,50.1 44.0,50.1 44.1,50.1 44.3,50.1 44.5,50.1 44.6,50.1 44.7,54.3 44.8,56.1 45.0,58.3 45.2,60.7 45.3,63.5 45.5,66.5 45.6,69.0 45.7,69.8 45.8,73.1 46.0,76.4 46.2,79.6 46.3,82.9 46.5,86.2 46.6,88.6 46.7,89.5 46.8,92.6 47.0,95.5 47.2,98.3 47.3,100.9 47.5,103.3 47.6,105.6 47.7,106.1 47.9,108.2 48.0,110.0 48.2,111.7 48.4,113.2 48.5,114.7 48.6,115.8 48.7,116.2 48.8,117.7 49.0,119.2 49.2,120.7 49.3,122.2 49.5,123.7 49.6,124.8 49.7,125.1 49.8,126.6 50.0,128.1 50.2,129.6 50.3,131.1 50.5,132.6 50.6,133.7 50.7,134.1 50.8,135.6 51.0,137.1 51.2,138.6 51.3,140.0 51.5,141.5 51.6,143.0 51.7,143.4 51.9,144.9 52.0,146.4 52.2,147.9 52.3,149.4 52.5,150.8 52.6,152.0 52.7,152.3 52.8,153.8 53.0,155.3 53.2,156.8 53.3,158.3 53.5,159.8 53.6,160.9 53.7,161.3 53.8,162.8 54.0,164.2 54.2,165.7 54.3,167.2 54.5,168.7 54.6,169.8 54.7,170.2 54.8,171.7 55.0,173.2 55.2,174.6 55.3,176.1 55.5,177.6 55.6,179.1 55.7,179.5 55.9,181.0 56.0,182.4 56.2,183.9 56.3,185.3 56.5,186.8 56.6,187.8 56.7,188.2 56.8,189.6 57.0,191.0 57.2,192.4 57.3,193.8 57.5,195.1 57.6,196.2 57.7,196.4 57.8,197.8 58.0,199.2 58.2,200.6 58.3,201.9 58.5,203.4 58.6,204.3 58.7,204.6 58.8,206.0 59.0,207.5 59.2,208.8 59.3,210.2 59.5,211.5 59.6,212.9 59.7,213.3 59.9,214.6 60.0,215.9 60.2,217.3 60.3,218.7 60.5,220.1 60.6,220.9 60.7,221.3 60.8,222.5 61.0,224.0 61.2,225.1 61.3,226.5 61.5,227.8 61.6,228.8 61.7,229.3 61.8,230.7 62.0,232.2 62.2,233.2 62.3,234.6 62.5,236.1 62.6,237.1 62.7,237.4 62.8,238.9 63.0,240.3 63.2,241.6 63.3,243.2 63.5,244.5 63.6,245.8 63.7,246.3 63.9,247.6 64.0,249.1 64.2,250.1 64.3,251.7 64.5,253.0 64.6,254.4 64.7,254.5 64.8,255.6 65.0,257.0 65.2,258.6 65.3,259.5 65.5,260.9 65.6,261.9 65.9,262.1 66.4,267.8 66.9,268.3 67.4,274.0 67.9,274.0 68.4,278.0 68.9,278.3 69.4,281.7 69.9,281.4 70.4,283.4 70.9,283.1 71.4,285.1 71.9,283.8 72.4,286.0 72.9,285.4 73.4,287.4 73.9,286.7 74.4,288.9 74.9,288.2 75.4,289.2 75.9,288.6 76.4,289.8 76.9,288.7 77.4,289.6 77.9,289.0 78.4,290.2 78.9,289.3 79.4,290.6 79.9,289.9 80.4,290.9 80.9,290.3 81.4,291.9 81.9,290.1 82.4,291.4 82.9,290.1 83.4,291.7 83.9,290.2 84.4,291.1 84.9,290.2 85.4,291.2 85.9,290.5 86.4,291.6 86.9,290.7 87.4,291.4 87.9,290.8 88.4,291.7 88.9,290.8 89.4,291.8 89.9,290.8 90.4,292.0 90.9,290.9 91.4,291.8 91.9,290.0 92.4,291.2 92.9,290.6 93.4,291.7 93.9,290.7 94.4,291.6 94.9,290.1 95.4,291.7 95.9,290.4 96.4,291.6 96.9,290.9 97.4,292.0 97.9,290.6 98.4,291.8 98.9,290.2 99.4,291.6 99.9,290.8 100.4,291.9 100.9,291.1 101.4,292.4 101.9,290.9 102.4,292.0 102.9,290.9 103.4,292.2 103.9,291.0 104.4,292.1 104.9,290.3 105.4,291.8 105.9,289.8 106.4,291.3 106.9,290.7 107.4,291.8 107.9,290.7 108.4,291.6 108.9,290.6 109.4,291.9 109.9,290.7 110.4,291.7 110.9,290.1 111.4,291.2 111.9,290.2 112.4,291.3 112.9,290.3 113.4,291.0 113.9,290.3 114.4,290.9 114.9,289.9 115.4,290.9 115.9,290.2 116.4,291.1 116.9,290.2 117.4,291.4 117.9,289.8 118.4,291.3 118.9,289.7 119.4,290.8 119.9,289.7 120.4,291.0 120.9,290.0 121.4,290.8 121.9,289.5 122.4,291.1 122.9,290.1 123.4,291.3 123.9,290.2 124.4,291.2 124.9,289.7 125.4,290.9 125.9,289.9 126.4,291.4 126.9,290.2 127.4,291.6 127.9,290.5 128.4,291.7 128.9,290.7 129.4,292.2 129.9,290.8 130.4,292.0 130.9,290.5 131.4,291.5 131.9,290.7 132.4,292.0 132.9,290.4 133.4,291.4 133.9,290.2 134.4,291.5 134.9,290.3 135.4,291.4 135.9,290.2 136.4,291.2 136.9,290.3 137.4,291.6 137.9,290.8 138.4,291.7 138.9,290.7 139.4,291.8 139.9,290.2 140.4,291.4 140.9,290.3 141.4,291.3 141.9,290.1 142.4,291.4 142.9,290.3 143.4,291.4 143.9,290.8 144.4,291.9 144.9,290.2 145.4,291.4 145.9,289.9 146.4,291.3 146.9,289.8 147.4,291.1 147.9,290.1 148.4,291.5 148.9,290.5 149.4,291.4 149.9,290.4 150.4,291.2 150.9,290.3 151.4,291.2 151.9,290.3 152.4,291.5 152.9,290.6 153.4,291.9 153.9,290.4 154.4,291.8 154.9,290.5 155.4,291.6 155.9,290.4 156.4,291.4 156.9,290.5 157.4,291.8 157.9,290.5 158.4,291.9 158.9,290.5 159.4,291.9 159.9,290.6 160.4,291.8 160.9,290.1 161.4,291.5 161.9,290.5 162.4,291.5 162.9,290.1 163.4,291.6 163.9,290.3 164.4,291.6 164.9,290.9 165.4,292.3 165.9,291.1 166.4,292.1 166.9,290.9 167.4,292.0 167.9,290.5 168.4,291.6 168.9,290.5 169.4,291.4 169.9,290.5 170.4,291.8 170.9,290.5 171.4,292.3 171.9,290.7 172.4,291.8 172.9,290.6 173.4,292.0 173.9,290.4 174.4,291.7 174.9,290.1 175.4,291.5 175.9,290.5 176.4,291.7 176.9,290.8 177.4,292.2 177.9,290.2 178.4,291.6 178.9,290.0 179.4,291.3 179.9,290.5 180.4,291.4 180.9,290.7 181.4,291.9 181.9,290.1 182.4,291.6 182.9,290.3 183.4,291.5 183.9,290.4 184.4,291.4 184.9,290.6 185.4,291.9 185.9,290.4 186.4,291.4 186.9,290.5 187.4,291.8 187.9,290.7 188.4,291.7 188.9,290.5 189.4,291.7 189.9,290.4 190.4,291.5 190.9,289.9 191.4,290.9 191.9,289.6 192.4,290.9 192.9,290.3 193.4,291.3 193.9,289.9 194.4,291.3 194.9,290.0 195.4,291.0 195.9,290.2 196.4,291.5 196.9,290.7 197.4,292.0 197.9,290.8 198.4,292.0 198.9,290.6 199.4,291.8 199.9,290.5 200.4,291.9 200.9,290.5 201.4,291.4 201.9,290.3 202.4,291.6 202.9,290.4 203.4,291.9 203.9,290.5 204.4,291.7 204.9,290.7 205.4,291.9 205.9,291.2 206.4,291.9 206.9,290.8 207.4,292.1 207.9,290.8 208.4,292.2 208.9,290.8 209.4,291.9 209.9,290.5 210.4,292.1 210.9,291.1 211.4,292.0 211.9,290.9 212.4,292.1 212.9,290.7 213.4,292.1 213.9,290.8 214.4,291.8 214.9,290.5 215.4,291.8 215.9,290.8 216.4,292.1 216.9,290.6 217.4,291.6 217.9,290.0 218.4,291.5 218.9,290.3 219.4,291.4 219.9,290.7 220.4,291.8 220.9,290.4 221.4,291.6 221.9,290.5 222.4,291.6 222.9,290.6 223.4,291.5 223.9,290.8 224.4,291.9 224.9,290.8 225.4,291.6 225.9,290.6 226.4,291.9 226.9,290.9 227.4,292.4 227.9,290.8 228.4,291.8 228.9,290.6 229.4,291.7 229.9,290.3 230.4,291.4 230.9,290.8 231.4,291.5 231.9,291.1 232.4,292.2 232.9,291.3 233.4,292.4 233.9,290.8 234.4,291.8 234.9,289.9 235.4,291.3 235.9,290.0 236.4,291.1 236.9,290.1 237.4,291.7 237.9,290.3 238.4,291.7 238.9,290.2 239.4,291.6 239.9,290.4 240.4,291.4 240.9,290.0 241.4,291.3 241.9,290.0 242.4,291.1 242.9,290.2 243.4,291.3 243.9,290.4 244.4,291.7 244.9,290.7 245.4,291.7 245.9,290.5 246.4,291.8 246.9,290.6 247.4,291.7 247.9,290.6 248.4,291.7 248.9,290.1 249.4,291.6 249.7,290.2 249.7,290.7 249.8,35.5 249.8,36.0 250.0,37.8 250.2,39.6 250.3,41.4 250.5,43.2 250.6,44.5 250.7,45.0 250.8,46.8 251.0,48.6 251.2,50.4 251.3,52.2 251.5,54.0 251.6,55.4 251.7,55.8 251.8,57.6 252.0,59.4 252.2,61.2 252.3,63.0 252.5,64.8 252.6,66.7 252.7,67.1 252.9,68.9 253.0,70.7 253.2,72.5 253.3,74.3 253.5,76.1 253.6,77.5 253.7,77.9 253.8,79.7 254.0,81.6 254.2,83.4 254.3,85.2 254.5,87.0 254.6,88.3 254.7,88.8 254.8,90.6 255.0,92.4 255.2,94.2 255.3,96.0 255.5,97.8 255.6,99.2 255.7,99.6 255.8,101.4 256.0,103.2 256.1,105.0 256.3,106.8 256.5,108.6 256.6,110.4 256.7,110.9 256.9,112.7 257.0,114.5 257.2,116.3 257.3,118.1 257.5,119.9 257.6,121.3 257.7,121.7 257.8,123.5 258.0,125.3 258.2,127.1 258.3,128.9 258.5,130.7 258.6,132.1 258.7,132.5 258.8,134.3 259.0,136.1 259.2,137.8 259.3,139.5 259.5,141.2 259.6,142.5 259.7,142.9 259.8,144.6 260.0,146.3 260.1,147.9 260.3,149.5 260.5,151.2 260.6,152.8 260.7,153.2 260.8,154.9 261.0,156.5 261.2,158.2 261.3,159.8 261.5,161.4 261.6,162.7 261.7,163.1 261.8,164.7 262.0,166.4 262.2,168.0 262.3,169.5 262.5,171.0 262.6,172.0 262.7,172.4 262.8,173.7 263.0,174.9 263.2,176.1 263.3,177.2 263.5,178.2 263.6,178.9 263.9,179.1 264.4,184.5 264.9,184.7 265.4,190.5 265.7,190.7 265.8,191.9 266.0,193.0 266.2,194.1 266.3,195.2 266.5,196.4 266.6,197.2 266.7,197.6 266.8,198.7 267.0,199.8 267.2,200.9 267.3,202.0 267.5,203.3 267.6,204.1 267.7,204.3 267.8,205.6 268.0,206.8 268.1,207.9 268.3,208.9 268.5,210.1 268.6,211.2 268.7,211.5 268.8,212.6 269.0,213.7 269.2,214.8 269.3,215.9 269.5,217.1 269.6,217.8 269.7,218.2 269.8,219.5 270.0,220.5 270.2,221.5 270.3,222.6 270.5,223.8 270.6,224.5 270.7,225.0 270.7,225.0 270.8,226.0 271.0,227.0 271.2,228.1 271.3,229.6 271.5,230.9 271.6,231.4 271.7,231.8 271.8,233.1 272.0,234.0 272.1,235.5 272.3,236.6 272.5,238.1 272.6,239.5 272.7,240.4 272.8,241.5 273.0,243.0 273.2,244.0 273.3,245.8 273.5,246.6 273.6,247.8 273.7,248.1 273.8,249.6 274.0,251.1 274.2,252.1 274.3,253.3 274.5,254.2 274.6,255.6 274.7,255.7 274.8,257.1 275.0,257.9 275.2,258.9 275.3,260.5 275.5,261.6 275.6,262.2 275.7,262.5 275.8,263.9 276.0,264.8 276.1,266.1 276.3,267.0 276.5,268.1 276.6,269.8 276.9,269.8 277.4,274.6 277.9,274.5 278.4,278.7 278.9,278.8 279.4,281.7 279.9,281.3 280.4,283.7 280.9,283.2 281.4,285.4 281.9,284.9 282.4,286.2 282.9,285.2 283.4,287.0 283.9,286.0 284.4,288.4 284.9,287.9 285.4,289.2 285.9,288.5 286.4,289.8 286.9,288.7 287.4,289.9 287.9,289.1 288.4,290.5 288.9,289.8 289.4,290.9 289.9,290.2 290.4,291.5 290.9,290.1 291.4,291.5 291.9,290.4 292.4,291.7 292.9,290.8 293.4,291.9 293.9,290.8 294.4,291.9 294.9,290.7 295.4,291.8 295.9,290.7 296.4,291.7 296.9,290.4 297.4,291.7 297.9,290.3 298.4,291.6 298.9,290.5 299.4,291.3 299.9,290.4 300.4,291.9 300.9,290.7 301.4,291.6 301.9,290.7 302.4,292.0 302.9,290.2 303.4,291.5 303.9,290.3 304.4,291.5 304.9,290.4 305.4,291.2 305.9,290.8 306.4,292.0 306.9,290.4 307.4,291.8 307.9,290.0 308.4,291.0 308.9,290.4 309.4,291.3 309.9,290.3 310.4,291.3 310.9,290.4 311.4,291.6 311.9,290.5 312.4,291.5 312.9,290.5 313.4,291.7 313.9,290.7 314.4,291.7 314.9,290.8 315.4,291.9 315.9,290.3 316.4,291.8 316.9,290.8 317.4,291.7 317.9,290.3 318.4,291.8 318.9,290.7 319.4,291.7 319.9,290.5 320.4,291.5 320.9,290.5 321.4,291.6 321.9,290.0 322.4,291.4 322.9,290.5 323.4,291.6 323.9,290.6 324.4,291.9 324.9,291.0 325.4,292.3 325.9,291.0 326.4,291.9 326.9,291.2 327.4,292.3 327.9,290.7 328.4,291.7 328.9,290.6 329.4,291.9 329.9,290.2 330.4,291.6 330.9,290.3 331.4,291.3 331.9,290.1 332.4,291.4 332.9,290.6 333.4,291.5 333.9,290.4 334.4,291.1 334.9,290.2 335.4,291.6 335.9,290.7 336.4,291.7 336.9,290.6 337.4,291.4 337.9,290.5 338.4,291.4 338.9,290.3 339.4,291.5 339.9,290.1 340.4,291.3 340.9,290.4 341.4,291.3 341.9,290.5 342.4,291.5 342.9,290.3 343.4,291.4 343.9,291.1 344.4,292.4 344.9,291.1 345.4,292.1 345.9,290.0 346.4,291.1 346.9,290.1 347.4,291.1 347.9,290.0 348.4,291.1 348.9,290.1 349.4,291.4 349.9,290.9 350.4,292.1 350.9,291.1 351.4,292.3 351.9,291.0 352.4,292.1 352.9,291.0 353.4,292.2 353.9,290.3 354.4,292.1 354.9,290.5 355.4,291.5 355.9,290.7 356.4,291.6 356.9,290.7 357.4,291.9 357.9,290.8 358.4,291.7 358.9,290.1 359.4,291.3 359.9,290.7 360.4,292.1 360.9,291.4 361.4,292.0 361.9,290.8 362.4,292.1 362.9,290.3 363.4,291.5 363.9,290.1 364.4,291.2 364.9,290.5 365.4,291.4 365.9,291.0 366.4,292.4 366.9,290.1 367.4,291.6 367.9,289.7 368.4,290.7 368.9,289.6 369.4,290.5 369.9,289.6 370.4,291.1 370.9,290.1 371.4,291.4 371.9,290.5 372.4,291.9 372.9,291.0 373.4,291.9 373.9,291.1 374.4,291.9 374.9,290.9 375.4,292.1 375.9,290.8 376.4,291.6 376.9,290.6 377.4,291.5 377.9,290.4 378.4,291.8 378.9,290.7 379.4,291.7 379.9,290.6 380.4,291.6 380.9,290.4 381.4,291.5 381.9,290.4 382.4,291.7 382.9,290.6 383.4,291.5 383.9,290.5 384.4,291.7 384.9,289.9 385.4,291.1 385.9,290.2 386.4,291.3 386.9,290.2 387.4,291.3 387.9,289.1 388.4,290.8 388.9,289.8 389.4,290.9 389.9,290.2 390.4,291.4 390.9,290.6 391.4,291.9 391.9,290.3 392.4,291.5 392.9,290.3 393.4,291.3 393.9,290.4 394.4,291.7 394.9,290.1 395.4,291.9 395.9,290.4 396.4,291.3 396.9,290.0 397.4,291.1 397.9,290.4 398.4,291.5 398.9,291.0 399.4,292.1 399.9,290.5 400.4,292.2 400.9,290.6 401.4,291.6 401.9,290.3 402.4,291.7 402.9,290.8 403.4,291.9 403.9,290.4 404.4,292.0 404.9,290.5 405.4,291.8 405.9,289.8 406.4,291.0 406.9,290.1 407.4,291.0 407.9,290.8 408.4,292.1 408.9,291.0 409.4,292.1 409.9,290.6 410.4,291.6 410.9,289.9 411.4,291.8 411.9,290.1 412.4,291.2 412.9,290.1 413.4,291.8 413.9,290.6 414.4,292.0 414.9,290.4 415.4,291.8 415.9,290.3 416.4,291.7 416.9,290.7 417.4,291.3 417.9,290.0 418.4,291.3 418.9,290.0 419.4,291.0 419.9,290.4 420.4,291.4 420.9,290.3 421.4,291.6 421.9,290.7 422.4,291.7 422.9,291.0 423.4,291.9 423.9,290.9 424.4,292.0 424.9,291.0 425.4,291.9 425.9,290.8 426.4,292.4 426.9,290.4 427.4,291.5 427.9,290.0 428.4,291.2 428.9,290.2 429.4,291.5 429.9,289.9 430.4,291.7 430.9,290.4 431.4,291.7 431.9,290.6 432.4,291.9 432.9,290.5 433.4,291.5 433.9,290.4 434.4,291.6 434.9,290.5 435.4,291.6 435.9,290.8 436.4,292.2 436.9,290.9 437.4,292.2 437.9,290.1 438.4,291.8 438.9,290.0 439.4,291.4 439.9,290.5 440.4,291.9 440.9,290.5 441.4,291.9 441.9,289.8 442.4,291.1 442.9,289.8 443.4,291.3 443.9,290.2 444.4,291.7 444.9,290.7 445.4,291.6 445.9,290.5 446.4,291.6 446.9,290.2 447.4,291.3 447.9,290.3 448.4,291.2 448.9,290.3 449.4,291.6 449.9,290.2 450.4,291.2 450.9,289.9 451.4,291.2 451.9,290.1 452.4,291.2 452.9,290.0 453.4,291.2 453.9,290.3 454.4,291.0 454.9,290.5 455.4,292.2 455.9,291.4 456.4,291.9"/>
<polyline stroke="#000000" points="43.6,50.1 43.8,50.1 44.0,50.1 44.1,50.1 44.3,50.1 44.5,50.1 44.6,50.1 44.7,54.8 44.8,56.7 45.0,59.1 45.2,61.7 45.3,64.8 45.5,68.1 45.6,70.8 45.7,71.7 45.8,75.3 46.0,78.9 46.2,82.5 46.3,86.1 46.5,89.7 46.6,92.2 46.7,93.0 46.8,96.1 47.0,99.1 47.2,101.8 47.3,104.4 47.5,106.7 47.6,108.9 47.7,109.4 47.9,111.3 48.0,113.1 48.2,114.7 48.4,116.3 48.5,117.9 48.6,119.1 48.7,119.5 48.8,121.1 49.0,122.7 49.2,124.3 49.3,125.9 49.5,127.5 49.6,128.7 49.7,129.1 49.8,130.7 50.0,132.3 50.2,133.9 50.3,135.6 50.5,137.2 50.6,138.4 50.7,138.8 50.8,140.4 51.0,142.0 51.2,143.6 51.3,145.2 51.5,146.8 51.6,148.4 51.7,148.8 51.9,150.4 52.0,152.0 52.2,153.6 52.3,155.2 52.5,156.8 52.6,158.0 52.7,158.4 52.8,160.0 53.0,161.6 53.2,163.2 53.3,164.8 53.5,166.4 53.6,167.7 53.7,168.1 53.8,169.7 54.0,171.3 54.2,172.9 54.3,174.5 54.5,176.1 54.6,177.3 54.7,177.7 54.8,179.3 55.0,180.9 55.2,182.4 55.3,184.0 55.5,185.5 55.6,187.0 55.7,187.4 55.9,188.9 56.0,190.4 56.2,191.9 56.3,193.3 56.5,194.7 56.6,195.8 56.7,196.1 56.8,197.5 57.0,199.0 57.2,200.3 57.3,201.8 57.5,203.3 57.6,204.2 57.7,204.6 57.8,206.0 58.0,207.4 58.2,208.8 58.3,210.2 58.5,211.6 58.6,212.6 58.7,213.0 58.8,214.4 59.0,215.8 59.2,217.2 59.3,218.5 59.5,219.9 59.6,221.3 59.7,221.7 59.9,223.0 60.0,224.2 60.2,225.4 60.3,226.9 60.5,228.2 60.6,229.2 60.7,229.6 60.8,231.0 61.0,232.3 61.2,233.8 61.3,235.6 61.5,237.1 61.6,238.4 61.7,238.6 61.8,240.4 62.0,241.5 62.2,243.3 62.3,244.7 62.5,246.6 62.6,247.5 62.7,248.2 62.8,249.3 63.0,250.9 63.2,252.2 63.3,253.5 63.5,254.8 63.6,255.9 63.7,256.4 63.9,257.6 64.0,258.9 64.2,260.3 64.3,261.7 64.5,262.8 64.6,263.5 64.7,263.7 64.8,264.7 65.0,265.9 65.2,267.0 65.3,268.4 65.5,269.4 65.6,270.4 65.6,270.1 65.9,270.5 66.4,276.2 66.9,276.5 67.4,280.3 67.9,280.6 68.4,282.8 68.9,282.6 69.4,284.5 69.9,284.6 70.4,286.1 70.9,286.1 71.4,287.5 71.9,287.2 72.4,288.3 72.9,288.4 73.4,289.4 73.9,288.5 74.4,289.1 74.9,288.3 75.4,289.5 75.9,289.3 76.4,290.2 76.9,289.6 77.4,291.0 77.9,290.2 78.4,291.0 78.9,290.2 79.4,291.2 79.9,290.0 80.4,290.8 80.9,290.5 81.4,291.5 81.9,291.3 82.4,292.2 82.9,290.8 83.4,291.9 83.9,290.4 84.4,291.3 84.9,290.4 85.4,291.2 85.9,290.3 86.4,291.4 86.9,290.7 87.4,291.7 87.9,291.0 88.4,292.0 88.9,290.5 89.4,291.9 89.9,290.4 90.4,291.3 90.9,290.2 91.4,291.1 91.9,290.4 92.4,291.3 92.9,290.6 93.4,291.4 93.9,290.6 94.4,291.1 94.9,290.7 95.4,291.4 95.9,291.0 96.4,292.0 96.9,291.2 97.4,292.1 97.9,291.7 98.4,292.6 98.9,291.4 99.4,292.4 99.9,291.1 100.4,291.8 100.9,290.7 101.4,291.6 101.9,290.6 102.4,291.5 102.9,290.5 103.4,291.2 103.9,290.8 104.4,291.4 104.9,291.0 105.4,291.8 105.9,290.9 106.4,291.7 106.9,291.0 107.4,291.6 107.9,290.8 108.4,291.2 108.9,290.6 109.4,291.6 109.9,290.6 110.4,291.4 110.9,289.9 111.4,290.7 111.9,290.0 112.4,290.5 112.9,290.6 113.4,291.5 113.9,291.1 114.4,292.0 114.9,291.4 115.4,292.2 115.9,291.4 116.4,292.5 116.9,291.4 117.4,292.1 117.9,291.2 118.4,292.0 118.9,291.2 119.4,292.0 119.9,291.3 120.4,292.0 120.9,290.6 121.4,291.8 121.9,290.2 122.4,291.0 122.9,290.3 123.4,291.4 123.9,290.5 124.4,291.6 124.9,290.2 125.4,291.1 125.9,290.3 126.4,291.2 126.9,290.4 127.4,291.2 127.9,290.9 128.4,291.5 128.9,290.7 129.4,291.6 129.9,290.5 130.4,291.3 130.9,290.3 131.4,291.2 131.9,290.0 132.4,290.8 132.9,289.9 133.4,291.0 133.9,290.0 134.4,291.0 134.9,290.2 135.4,291.0 135.9,290.5 136.4,291.1 136.9,290.6 137.4,291.2 137.9,290.7 138.4,291.3 138.9,290.9 139.4,292.0 139.9,291.9 140.4,292.8 140.9,292.2 141.4,293.1 141.9,291.3 142.4,292.6 142.9,291.0 143.4,292.3 143.9,291.0 144.4,291.7 144.9,291.0 145.4,291.8 145.9,290.5 146.4,291.4 146.9,290.7 147.4,291.4 147.9,290.9 148.4,291.6 148.9,290.9 149.4,292.0 149.9,291.3 150.4,292.1 150.9,291.3 151.4,292.2 151.9,291.2 152.4,292.1 152.9,290.8 153.4,291.7 153.9,290.4 154.4,291.5 154.9,290.4 155.4,291.1 155.9,290.4 156.4,291.1 156.9,290.9 157.4,291.5 157.9,290.7 158.4,291.3 158.9,290.6 159.4,291.6 159.9,291.3 160.4,291.9 160.9,290.7 161.4,291.6 161.9,290.6 162.4,291.2 162.9,290.7 163.4,292.0 163.9,291.2 164.4,292.3 164.9,290.5 165.4,291.7 165.9,290.3 166.4,291.0 166.9,290.1 167.4,291.1 167.9,290.1 168.4,290.9 168.9,290.5 169.4,291.3 169.9,290.2 170.4,291.6 170.9,290.1 171.4,290.7 171.9,290.1 172.4,291.2 172.9,290.5 173.4,291.3 173.9,290.3 174.4,291.0 174.9,290.1 175.4,291.1 175.9,290.0 176.4,291.4 176.9,290.1 177.4,290.8 177.9,289.9 178.4,290.7 178.9,290.2 179.4,290.9 179.9,290.5 180.4,291.0 180.9,290.1 181.4,290.9 181.9,290.2 182.4,291.0 182.9,290.5 183.4,291.7 183.9,291.2 184.4,291.8 184.9,290.8 185.4,291.7 185.9,290.3 186.4,291.4 186.9,290.6 187.4,291.7 187.9,290.9 188.4,292.0 188.9,291.0 189.4,291.7 189.9,291.0 190.4,291.6 190.9,290.6 191.4,291.6 191.9,290.8 192.4,291.6 192.9,290.4 193.4,291.1 193.9,290.5 194.4,291.4 194.9,290.7 195.4,291.5 195.9,291.1 196.4,291.7 196.9,291.4 197.4,292.2 197.9,290.9 198.4,291.8 198.9,290.9 199.4,291.4 199.9,290.8 200.4,291.4 200.9,291.0 201.4,291.7 201.9,290.6 202.4,291.6 202.9,290.2 203.4,291.1 203.9,290.4 204.4,291.7 204.9,291.0 205.4,291.8 205.9,290.6 206.4,291.6 206.9,290.4 207.4,291.4 207.9,290.7 208.4,291.7 208.9,291.3 209.4,292.4 209.9,291.4 210.4,292.3 210.9,291.4 211.4,292.1 211.9,290.8 212.4,291.8 212.9,290.7 213.4,291.6 213.9,290.8 214.4,291.3 214.9,290.5 215.4,291.4 215.9,290.3 216.4,291.1 216.9,290.4 217.4,291.4 217.9,290.3 218.4,291.7 218.9,289.5 219.4,290.7 219.9,289.1 220.4,290.0 220.9,289.5 221.4,290.3 221.9,290.0 222.4,291.3 222.9,290.2 223.4,291.2 223.9,290.1 224.4,291.2 224.9,290.0 225.4,291.0 225.9,290.2 226.4,291.1 226.9,290.1 227.4,291.1 227.9,290.3 228.4,290.9 228.9,290.4 229.4,291.4 229.9,290.4 230.4,291.3 230.9,290.1 231.4,290.9 231.9,290.0 232.4,290.8 232.9,290.3 233.4,290.7 233.9,290.4 234.4,291.9 234.9,291.0 235.4,292.0 235.9,291.1 236.4,292.1 236.9,291.1 237.4,291.9 237.9,290.5 238.4,291.9 238.9,290.7 239.4,291.7 239.9,291.0 240.4,291.7 240.9,291.1 241.4,291.7 241.9,291.0 242.4,291.9 242.9,291.0 243.4,291.7 243.9,291.3 244.4,292.1 244.9,291.6 245.4,292.9 245.9,291.4 246.4,292.3 246.9,291.2 247.4,292.1 247.9,291.1 248.4,292.5 248.9,291.0 249.4,291.7 249.7,291.2 249.8,35.5 249.8,36.0 250.0,38.0 250.2,40.0 250.3,42.0 250.5,44.0 250.6,45.5 250.7,46.0 250.8,48.0 251.0,50.0 251.2,52.0 251.3,54.0 251.5,56.0 251.6,57.5 251.7,58.0 251.8,60.0 252.0,62.0 252.2,64.0 252.3,66.0 252.5,68.0 252.6,70.0 252.7,70.5 252.9,72.5 253.0,74.5 253.2,76.5 253.3,78.5 253.5,80.5 253.6,82.0 253.7,82.4 253.8,84.4 254.0,86.4 254.2,88.4 254.3,90.4 254.5,92.4 254.6,93.9 254.7,94.4 254.8,96.4 255.0,98.4 255.2,100.4 255.3,102.4 255.5,104.4 255.6,105.9 255.7,106.4 255.8,108.4 256.0,110.4 256.1,112.4 256.3,114.4 256.5,116.4 256.6,118.4 256.7,118.9 256.9,120.9 257.0,122.9 257.2,124.9 257.3,126.9 257.5,128.9 257.6,130.4 257.7,130.9 257.8,132.9 258.0,134.9 258.2,137.0 258.3,139.0 258.5,141.1 258.6,142.7 258.7,143.2 258.8,145.3 259.0,147.4 259.2,149.5 259.3,151.6 259.5,153.7 259.6,155.3 259.7,155.9 259.8,158.0 260.0,160.1 260.1,162.2 260.3,164.4 260.5,166.4 260.6,168.4 260.7,168.8 260.8,170.7 261.0,172.4 261.2,174.0 261.3,175.5 261.5,176.9 261.6,177.9 261.7,178.2 261.8,179.4 262.0,180.5 262.2,181.5 262.3,182.6 262.5,183.7 262.6,184.5 262.7,184.8 262.8,186.0 263.0,187.3 263.2,188.6 263.3,190.0 263.5,191.4 263.6,192.5 263.7,192.9 263.8,194.4 264.0,195.9 264.1,197.5 264.3,199.0 264.5,200.6 264.6,202.0 264.7,202.5 264.8,204.0 265.0,205.7 265.2,207.2 265.3,208.7 265.5,210.2 265.6,211.3 265.7,211.7 265.8,213.3 266.0,214.8 266.2,216.4 266.3,218.0 266.5,219.5 266.6,220.7 266.7,221.2 266.8,222.6 267.0,224.2 267.2,225.7 267.3,227.2 267.5,228.5 267.6,229.6 267.7,230.1 267.8,231.6 268.0,233.1 268.1,234.7 268.3,236.4 268.5,237.6 268.6,239.3 268.7,239.4 268.8,240.9 269.0,242.2 269.2,243.7 269.3,245.0 269.5,246.7 269.6,247.7 269.7,247.9 269.8,249.3 270.0,250.7 270.2,252.0 270.3,253.5 270.5,255.0 270.6,256.0 270.7,256.4 270.8,257.8 271.0,258.9 271.2,260.4 271.3,261.7 271.5,263.4 271.6,264.1 271.7,264.3 271.8,265.7 272.0,266.8 272.1,268.2 272.3,268.9 272.5,269.8 272.6,271.1 272.9,271.3 273.4,276.4 273.9,275.9 274.4,279.4 274.9,279.4 275.4,281.8 275.9,281.7 276.4,283.5 276.9,283.2 277.4,284.4 277.9,284.5 278.4,286.3 278.9,286.0 279.4,287.1 279.9,287.1 280.4,288.9 280.9,288.6 281.4,289.9 281.9,289.8 282.4,290.5 282.9,289.3 283.4,290.1 283.9,289.2 284.4,289.7 284.9,290.0 285.4,290.8 285.9,289.7 286.4,290.5 286.9,289.3 287.4,290.5 287.9,289.9 288.4,291.3 288.9,290.7 289.4,291.3 289.9,290.3 290.4,291.5 290.9,290.4 291.4,291.1 291.9,289.9 292.4,290.8 292.9,289.6 293.4,290.3 293.9,289.7 294.4,290.7 294.9,290.0 295.4,290.8 295.9,290.2 296.4,291.1 296.9,290.6 297.4,291.5 297.9,290.6 298.4,291.6 298.9,290.5 299.4,291.3 299.9,290.3 300.4,291.1 300.9,290.7 301.4,291.5 301.9,290.6 302.4,291.4 302.9,290.0 303.4,291.1 303.9,290.0 304.4,290.8 304.9,289.8 305.4,290.7 305.9,289.8 306.4,291.1 306.9,290.6 307.4,292.3 307.9,291.5 308.4,292.5 308.9,290.4 309.4,291.8 309.9,290.1 310.4,291.2 310.9,290.1 311.4,290.9 311.9,290.1 312.4,290.8 312.9,290.6 313.4,291.5 313.9,290.7 314.4,291.6 314.9,290.3 315.4,291.4 315.9,290.4 316.4,291.4 316.9,290.2 317.4,290.7 317.9,289.6 318.4,290.4 318.9,289.8 319.4,290.4 319.9,290.0 320.4,290.9 320.9,290.1 321.4,290.8 321.9,290.0 322.4,290.8 322.9,289.8 323.4,290.5 323.9,290.0 324.4,291.3 324.9,290.9 325.4,291.6 325.9,290.4 326.4,291.2 326.9,290.9 327.4,291.7 327.9,291.0 328.4,291.8 328.9,290.4 329.4,291.3 329.9,290.5 330.4,291.6 330.9,290.8 331.4,291.5 331.9,291.0 332.4,291.7 332.9,291.4 333.4,292.1 333.9,291.2 334.4,292.0 334.9,290.5 335.4,291.9 335.9,290.7 336.4,292.1 336.9,290.9 337.4,291.7 337.9,291.0 338.4,291.9 338.9,290.7 339.4,291.7 339.9,290.9 340.4,291.8 340.9,291.0 341.4,291.7 341.9,291.0 342.4,291.8 342.9,291.2 343.4,291.7 343.9,290.0 344.4,291.5 344.9,290.3 345.4,291.2 345.9,290.5 346.4,291.2 346.9,290.3 347.4,291.1 347.9,289.9 348.4,290.9 348.9,290.4 349.4,291.2 349.9,290.5 350.4,291.4 350.9,289.9 351.4,290.9 351.9,290.0 352.4,290.7 352.9,290.3 353.4,291.1 353.9,290.4 354.4,291.1 354.9,290.1 355.4,290.9 355.9,290.0 356.4,290.6 356.9,290.0 357.4,290.8 357.9,290.0 358.4,290.9 358.9,290.8 359.4,291.6 359.9,291.0 360.4,292.0 360.9,290.6 361.4,291.5 361.9,290.6 362.4,291.6 362.9,291.1 363.4,291.9 363.9,291.2 364.4,292.2 364.9,290.7 365.4,291.8 365.9,290.9 366.4,291.8 366.9,291.5 367.4,292.2 367.9,291.4 368.4,292.3 368.9,290.7 369.4,291.9 369.9,290.8 370.4,291.7 370.9,291.2 371.4,292.3 371.9,291.6 372.4,292.4 372.9,291.7 373.4,292.5 373.9,291.9 374.4,292.7 374.9,291.3 375.4,292.4 375.9,291.0 376.4,291.8 376.9,290.6 377.4,291.5 377.9,290.9 378.4,291.8 378.9,291.1 379.4,292.1 379.9,291.2 380.4,291.9 380.9,290.8 381.4,291.7 381.9,290.7 382.4,291.3 382.9,290.8 383.4,291.5 383.9,291.0 384.4,292.0 384.9,290.6 385.4,292.0 385.9,290.5 386.4,291.2 386.9,290.4 387.4,291.2 387.9,290.1 388.4,290.9 388.9,289.7 389.4,290.7 389.9,289.9 390.4,290.7 390.9,290.3 391.4,291.5 391.9,291.0 392.4,291.7 392.9,290.5 393.4,291.4 393.9,290.7 394.4,291.3 394.9,290.8 395.4,291.6 395.9,291.5 396.4,292.1 396.9,291.5 397.4,292.1 397.9,291.3 398.4,292.0 398.9,291.3 399.4,291.9 399.9,291.1 400.4,291.8 400.9,290.8 401.4,291.6 401.9,290.7 402.4,291.5 402.9,290.9 403.4,291.5 403.9,290.5 404.4,291.4 404.9,290.7 405.4,291.2 405.9,290.7 406.4,291.4 406.9,290.8 407.4,291.8 407.9,291.4 408.4,292.1 408.9,291.3 409.4,292.5 409.9,291.5 410.4,292.0 410.9,290.6 411.4,291.4 411.9,290.7 412.4,291.7 412.9,291.5 413.4,292.1 413.9,291.6 414.4,292.6 414.9,291.5 415.4,292.2 415.9,291.3 416.4,292.2 416.9,290.9 417.4,291.9 417.9,290.8 418.4,291.7 418.9,291.0 419.4,291.9 419.9,291.2 420.4,292.1 420.9,290.2 421.4,291.7 421.9,290.5 422.4,291.3 422.9,290.2 423.4,290.9 423.9,289.6 424.4,290.7 424.9,289.7 425.4,290.8 425.9,290.4 426.4,291.4 426.9,290.4 427.4,291.3 427.9,290.6 428.4,291.4 428.9,290.8 429.4,291.6 429.9,290.8 430.4,291.4 430.9,290.3 431.4,291.1 431.9,290.6 432.4,291.2 432.9,290.3 433.4,291.5 433.9,289.7 434.4,290.7 434.9,289.4 435.4,290.4 435.9,289.6 436.4,290.5 436.9,289.9 437.4,290.6 437.9,290.3 438.4,291.2 438.9,290.0 439.4,290.8 439.9,290.0 440.4,291.1 440.9,290.6 441.4,291.5 441.9,290.5 442.4,291.1 442.9,290.5 443.4,291.3 443.9,290.7 444.4,291.5 444.9,290.5 445.4,291.3 445.9,290.2 446.4,291.5 446.9,290.3 447.4,291.2 447.9,291.0 448.4,291.7 448.9,291.0 449.4,292.1 449.9,290.5 450.4,291.4 450.9,290.3 451.4,291.4 451.9,290.8 452.4,291.4 452.9,290.7 453.4,291.5 453.9,290.5 454.4,291.0 454.9,290.0 455.4,291.0 455.9,290.0 456.4,290.5"/>
<polyline stroke="#ff00ff" points="43.6,50.1 43.8,50.1 44.0,50.1 44.1,50.1 44.3,50.1 44.5,50.1 44.6,50.1 44.7,55.8 44.8,58.2 45.0,61.0 45.2,64.3 45.3,68.0 45.5,72.1 45.6,75.4 45.7,76.5 45.8,80.9 46.0,85.2 46.2,89.4 46.3,93.2 46.5,96.9 46.6,99.5 46.7,100.3 46.8,103.5 47.0,106.4 47.2,109.1 47.3,111.6 47.5,113.8 47.6,115.8 47.7,116.3 47.9,118.3 48.0,120.2 48.2,122.2 48.4,124.1 48.5,126.1 48.6,127.6 48.7,128.1 48.8,130.0 49.0,132.0 49.2,133.9 49.3,135.9 49.5,137.9 49.6,139.3 49.7,139.8 49.8,141.8 50.0,143.7 50.2,145.7 50.3,147.7 50.5,149.6 50.6,151.1 50.7,151.6 50.8,153.5 51.0,155.5 51.2,157.5 51.3,159.4 51.5,161.4 51.6,163.3 51.7,163.8 51.9,165.8 52.0,167.7 52.2,169.7 52.3,171.7 52.5,173.6 52.6,175.1 52.7,175.6 52.8,177.5 53.0,179.4 53.2,181.3 53.3,183.1 53.5,184.9 53.6,186.2 53.7,186.6 53.8,188.2 54.0,189.8 54.2,191.4 54.3,192.9 54.5,194.3 54.6,195.3 54.7,195.6 54.8,197.0 55.0,198.4 55.2,199.8 55.3,201.2 55.5,202.6 55.6,204.0 55.7,204.3 55.9,205.6 56.0,207.2 56.2,208.7 56.3,209.9 56.5,211.4 56.6,212.4 56.7,212.8 56.8,214.0 57.0,215.7 57.2,217.0 57.3,218.4 57.5,219.9 57.6,220.6 57.7,221.2 57.8,222.5 58.0,223.7 58.2,225.0 58.3,226.3 58.5,228.1 58.6,229.0 58.7,229.6 58.8,230.7 59.0,232.6 59.2,233.9 59.3,235.8 59.5,237.0 59.6,238.7 59.7,238.9 59.9,241.1 60.0,242.9 60.2,244.5 60.3,246.1 60.5,247.9 60.6,249.2 60.7,249.5 60.8,251.7 61.0,253.0 61.2,254.8 61.3,256.6 61.5,258.0 61.6,259.6 61.7,260.0 61.7,259.9 61.8,260.8 62.0,263.0 62.2,264.9 62.3,266.0 62.5,268.2 62.6,268.1 62.7,269.2 62.7,269.0 62.8,270.7 63.0,272.3 63.2,273.0 63.3,274.3 63.5,275.6 63.6,277.1 63.9,277.0 64.4,282.3 64.9,282.2 65.4,286.6 65.9,286.3 66.4,289.5 66.9,289.2 67.4,291.7 67.9,291.5 68.4,293.2 68.9,292.9 69.4,295.1 69.9,294.1 70.4,295.8 70.9,295.0 71.4,296.3 71.9,295.5 72.4,296.7 72.9,296.2 73.4,297.8 73.9,296.3 74.4,297.8 74.9,296.1 75.4,297.4 75.9,296.3 76.4,297.5 76.9,296.4 77.4,297.6 77.9,296.7 78.4,298.0 78.9,296.5 79.4,297.5 79.9,296.0 80.4,297.5 80.9,296.6 81.4,298.1 81.9,297.4 82.4,298.3 82.9,297.5 83.4,298.7 83.9,297.5 84.4,298.7 84.9,297.6 85.4,298.7 85.9,297.4 86.4,298.6 86.9,296.9 87.4,298.3 87.9,297.2 88.4,298.1 88.9,297.0 89.4,298.2 89.9,297.1 90.4,298.4 90.9,297.1 91.4,298.4 91.9,297.1 92.4,298.1 92.9,296.7 93.4,298.0 93.9,297.0 94.4,298.1 94.9,296.4 95.4,298.4 95.9,296.9 96.4,297.7 96.9,296.8 97.4,298.1 97.9,297.1 98.4,298.1 98.9,296.7 99.4,297.9 99.9,296.9 100.4,298.1 100.9,296.9 101.4,298.3 101.9,296.7 102.4,297.9 102.9,296.5 103.4,297.9 103.9,296.4 104.4,297.6 104.9,296.6 105.4,297.7 105.9,296.9 106.4,298.3 106.9,296.6 107.4,298.4 107.9,297.0 108.4,298.1 108.9,297.0 109.4,298.2 109.9,296.8 110.4,298.2 110.9,296.7 111.4,298.0 111.9,296.9 112.4,298.1 112.9,296.8 113.4,298.1 113.9,296.7 114.4,297.9 114.9,297.1 115.4,298.6 115.9,297.6 116.4,298.7 116.9,297.2 117.4,298.7 117.9,297.1 118.4,298.1 118.9,297.1 119.4,298.3 119.9,296.8 120.4,298.5 120.9,296.7 121.4,297.8 121.9,296.7 122.4,298.4 122.9,297.3 123.4,298.4 123.9,296.8 124.4,298.4 124.9,296.3 125.4,298.2 125.9,296.4 126.4,297.6 126.9,297.2 127.4,298.5 127.9,297.3 128.4,298.8 128.9,297.4 129.4,298.5 129.9,296.9 130.4,298.6 130.9,296.8 131.4,298.1 131.9,297.2 132.4,298.2 132.9,296.9 133.4,298.0 133.9,296.5 134.4,298.1 134.9,296.7 135.4,298.2 135.9,296.5 136.4,297.9 136.9,295.8 137.4,297.7 137.9,296.7 138.4,297.9 138.9,296.8 139.4,298.0 139.9,297.0 140.4,298.4 140.9,296.6 141.4,297.9 141.9,296.8 142.4,298.0 142.9,296.9 143.4,298.4 143.9,297.5 144.4,299.0 144.9,297.7 145.4,299.1 145.9,297.5 146.4,298.7 146.9,297.2 147.4,298.3 147.9,296.7 148.4,298.3 148.9,296.9 149.4,298.1 149.9,297.0 150.4,298.1 150.9,297.3 151.4,298.5 151.9,296.9 152.4,298.0 152.9,296.9 153.4,298.1 153.9,297.0 154.4,298.3 154.9,297.3 155.4,298.9 155.9,297.4 156.4,299.1 156.9,297.3 157.4,298.5 157.9,296.9 158.4,298.5 158.9,297.4 159.4,298.6 159.9,297.2 160.4,298.2 160.9,296.9 161.4,298.0 161.9,296.7 162.4,298.5 162.9,297.4 163.4,298.8 163.9,296.8 164.4,298.4 164.9,297.3 165.4,298.8 165.9,297.1 166.4,298.2 166.9,297.2 167.4,298.8 167.9,297.2 168.4,298.7 168.9,296.9 169.4,298.7 169.9,296.7 170.4,297.8 170.9,296.5 171.4,297.8 171.9,296.6 172.4,298.0 172.9,296.6 173.4,297.9 173.9,296.6 174.4,297.7 174.9,296.6 175.4,297.9 175.9,297.0 176.4,298.0 176.9,297.0 177.4,298.3 177.9,297.2 178.4,298.8 178.9,297.1 179.4,298.5 179.9,297.1 180.4,298.6 180.9,297.3 181.4,298.6 181.9,296.9 182.4,298.4 182.9,297.1 183.4,298.6 183.9,297.2 184.4,298.3 184.9,297.2 185.4,297.9 185.9,296.9 186.4,297.9 186.9,297.1 187.4,298.2 187.9,297.7 188.4,298.8 188.9,296.6 189.4,298.2 189.9,296.5 190.4,297.7 190.9,296.7 191.4,297.7 191.9,296.2 192.4,297.7 192.9,296.3 193.4,297.9 193.9,297.1 194.4,297.9 194.9,296.5 195.4,298.0 195.9,296.7 196.4,298.1 196.9,297.0 197.4,298.1 197.9,296.8 198.4,298.1 198.9,296.9 199.4,298.7 199.9,296.9 200.4,298.3 200.9,296.1 201.4,298.2 201.9,296.4 202.4,297.5 202.9,296.4 203.4,298.0 203.9,297.0 204.4,297.8 204.9,296.7 205.4,297.9 205.9,296.4 206.4,298.0 206.9,296.3 207.4,298.1 207.9,296.7 208.4,298.2 208.9,297.0 209.4,298.0 209.9,296.9 210.4,298.3 210.9,297.2 211.4,298.7 211.9,297.3 212.4,298.5 212.9,296.9 213.4,298.4 213.9,296.5 214.4,298.4 214.9,296.7 215.4,298.5 215.9,297.2 216.4,298.5 216.9,297.2 217.4,298.5 217.9,296.9 218.4,298.3 218.9,297.3 219.4,298.5 219.9,296.7 220.4,298.2 220.9,296.7 221.4,297.9 221.9,297.1 222.4,298.1 222.9,296.4 223.4,298.4 223.9,295.9 224.4,297.3 224.9,296.8 225.4,298.3 225.9,296.9 226.4,298.0 226.9,296.9 227.4,297.9 227.9,296.6 228.4,298.0 228.9,296.3 229.4,297.7 229.9,296.3 230.4,297.5 230.9,296.1 231.4,298.0 231.9,296.6 232.4,297.7 232.9,296.4 233.4,297.5 233.9,296.2 234.4,297.5 234.9,296.2 235.4,298.2 235.9,296.8 236.4,298.7 236.9,297.1 237.4,298.1 237.9,296.3 238.4,298.1 238.9,296.6 239.4,297.5 239.9,296.6 240.4,298.2 240.9,297.0 241.4,298.4 241.9,296.5 242.4,298.1 242.9,296.9 243.4,298.5 243.9,297.2 244.4,298.1 244.9,296.2 245.4,297.8 245.9,296.7 246.4,297.9 246.9,296.8 247.4,298.4 247.9,296.8 248.4,297.9 248.9,297.0 249.4,298.3 249.7,297.5 249.7,297.8 249.8,35.5 249.8,36.1 250.0,38.3 250.2,40.6 250.3,42.9 250.5,45.2 250.6,46.9 250.7,47.4 250.8,49.7 251.0,52.0 251.2,54.2 251.3,56.5 251.5,58.8 251.6,60.5 251.7,61.1 251.8,63.3 252.0,65.6 252.2,67.9 252.3,70.2 252.5,72.4 252.6,74.7 252.7,75.3 252.9,77.5 253.0,79.8 253.2,82.1 253.3,84.4 253.5,86.6 253.6,88.3 253.7,88.9 253.8,91.2 254.0,93.4 254.2,95.7 254.3,98.0 254.5,100.3 254.6,102.0 254.7,102.5 254.8,104.8 255.0,107.1 255.2,109.3 255.3,111.6 255.5,113.9 255.6,115.6 255.7,116.2 255.8,118.4 256.0,120.7 256.1,123.0 256.3,125.2 256.5,127.5 256.6,129.8 256.7,130.4 256.9,132.7 257.0,135.1 257.2,137.6 257.3,140.0 257.5,142.5 257.6,144.4 257.7,145.1 257.8,147.6 258.0,150.3 258.2,152.9 258.3,155.6 258.5,158.3 258.6,160.3 258.7,160.9 258.8,163.6 259.0,166.1 259.2,168.5 259.3,170.7 259.5,172.9 259.6,174.4 259.7,174.9 259.8,176.8 260.0,178.6 260.1,180.3 260.3,181.9 260.5,183.4 260.6,184.9 260.7,185.3 260.8,186.8 261.0,188.3 261.2,189.9 261.3,191.5 261.5,193.1 261.6,194.3 261.7,194.7 261.8,196.3 262.0,198.1 262.2,199.7 262.3,201.5 262.5,203.0 262.6,204.3 262.7,204.7 262.8,206.3 263.0,207.9 263.2,209.5 263.3,211.3 263.5,212.9 263.6,214.2 263.7,214.6 263.8,216.3 264.0,217.8 264.1,219.7 264.3,221.2 264.5,222.7 264.6,224.4 264.7,224.9 264.8,226.2 265.0,228.1 265.2,229.5 265.3,231.2 265.5,232.3 265.6,233.8 265.7,234.4 265.7,234.2 265.8,235.5 266.0,237.1 266.2,238.4 266.3,240.1 266.5,241.3 266.6,242.4 266.7,242.6 266.7,242.4 266.8,244.2 267.0,246.3 267.2,247.6 267.3,248.6 267.5,250.5 267.6,251.0 267.7,251.7 267.8,252.9 268.0,254.5 268.1,255.6 268.3,257.4 268.5,258.8 268.6,260.6 268.7,260.7 268.8,262.2 269.0,263.1 269.2,264.1 269.3,265.7 269.5,266.9 269.6,267.7 269.7,267.9 269.8,269.6 270.0,270.4 270.2,271.6 270.3,272.7 270.5,274.6 270.6,274.5 270.9,274.5 271.4,280.4 271.9,280.2 272.4,284.6 272.9,284.1 273.4,287.8 273.9,287.7 274.4,290.3 274.9,290.1 275.4,292.2 275.9,291.9 276.4,293.8 276.9,293.2 277.4,295.2 277.9,294.3 278.4,296.0 278.9,295.2 279.4,296.9 279.9,295.3 280.4,297.1 280.9,296.3 281.4,297.4 281.9,296.0 282.4,297.9 282.9,295.6 283.4,297.7 283.9,296.4 284.4,297.4 284.9,296.3 285.4,297.7 285.9,295.9 286.4,297.5 286.9,296.2 287.4,297.6 287.9,296.5 288.4,297.8 288.9,296.6 289.4,298.0 289.9,296.7 290.4,298.3 290.9,296.9 291.4,297.8 291.9,296.6 292.4,298.0 292.9,296.0 293.4,297.2 293.9,296.2 294.4,297.7 294.9,296.6 295.4,297.9 295.9,296.4 296.4,297.7 296.9,296.2 297.4,297.4 297.9,296.3 298.4,297.9 298.9,296.6 299.4,297.9 299.9,297.3 300.4,298.5 300.9,297.3 301.4,298.6 301.9,296.9 302.4,298.1 302.9,296.4 303.4,297.8 303.9,296.2 304.4,297.6 304.9,296.3 305.4,297.5 305.9,296.2 306.4,297.8 306.9,296.1 307.4,297.4 307.9,296.6 308.4,297.8 308.9,296.8 309.4,297.8 309.9,296.9 310.4,298.2 310.9,296.6 311.4,298.0 311.9,296.8 312.4,297.9 312.9,296.6 313.4,297.9 313.9,296.4 314.4,297.6 314.9,296.3 315.4,297.6 315.9,297.1 316.4,298.3 316.9,296.7 317.4,298.3 317.9,296.8 318.4,298.1 318.9,296.4 319.4,297.6 319.9,296.1 320.4,297.6 320.9,296.4 321.4,297.7 321.9,296.9 322.4,298.1 322.9,297.0 323.4,298.3 323.9,297.2 324.4,298.4 324.9,297.7 325.4,298.9 325.9,297.6 326.4,298.9 326.9,297.2 327.4,298.4 327.9,297.3 328.4,298.7 328.9,297.5 329.4,298.7 329.9,297.3 330.4,298.5 330.9,296.9 331.4,298.4 331.9,296.9 332.4,298.7 332.9,296.8 333.4,297.7 333.9,296.6 334.4,297.9 334.9,296.6 335.4,297.8 335.9,296.1 336.4,297.7 336.9,296.3 337.4,297.9 337.9,296.9 338.4,298.1 338.9,296.9 339.4,298.3 339.9,296.5 340.4,298.4 340.9,296.7 341.4,298.0 341.9,296.8 342.4,297.9 342.9,296.8 343.4,298.1 343.9,296.5 344.4,298.2 344.9,296.3 345.4,297.8 345.9,296.7 346.4,298.0 346.9,297.1 347.4,298.0 347.9,296.9 348.4,298.4 348.9,296.6 349.4,297.8 349.9,297.2 350.4,298.3 350.9,296.9 351.4,298.2 351.9,296.8 352.4,297.9 352.9,297.0 353.4,298.3 353.9,297.3 354.4,298.6 354.9,297.0 355.4,298.0 355.9,296.7 356.4,298.0 356.9,297.0 357.4,298.1 357.9,296.8 358.4,298.0 358.9,296.1 359.4,297.5 359.9,296.9 360.4,298.0 360.9,296.8 361.4,298.0 361.9,296.6 362.4,298.0 362.9,296.5 363.4,298.0 363.9,295.9 364.4,297.3 364.9,296.1 365.4,297.5 365.9,296.2 366.4,297.7 366.9,296.0 367.4,297.9 367.9,296.6 368.4,297.7 368.9,297.0 369.4,298.2 369.9,297.2 370.4,298.6 370.9,297.3 371.4,298.5 371.9,297.1 372.4,298.3 372.9,297.3 373.4,298.4 373.9,297.2 374.4,298.6 374.9,297.2 375.4,298.3 375.9,296.9 376.4,298.1 376.9,296.9 377.4,297.8 377.9,296.6 378.4,297.8 378.9,296.5 379.4,297.7 379.9,297.0 380.4,298.0 380.9,296.7 381.4,297.9 381.9,296.8 382.4,298.3 382.9,297.1 383.4,298.5 383.9,296.8 384.4,298.1 384.9,296.5 385.4,297.9 385.9,296.4 386.4,297.7 386.9,296.4 387.4,297.4 387.9,296.5 388.4,297.8 388.9,296.0 389.4,298.1 389.9,296.6 390.4,297.8 390.9,297.1 391.4,298.5 391.9,297.2 392.4,299.1 392.9,297.5 393.4,298.3 393.9,296.7 394.4,298.2 394.9,296.8 395.4,297.8 395.9,297.0 396.4,298.2 396.9,297.2 397.4,298.2 397.9,297.2 398.4,298.2 398.9,297.0 399.4,298.4 399.9,296.9 400.4,298.4 400.9,296.7 401.4,298.1 401.9,296.5 402.4,297.8 402.9,297.4 403.4,298.7 403.9,297.2 404.4,298.8 404.9,296.8 405.4,298.3 405.9,297.1 406.4,298.4 406.9,297.4 407.4,299.0 407.9,297.3 408.4,298.8 408.9,296.9 409.4,298.5 409.9,297.1 410.4,298.4 410.9,296.8 411.4,298.3 411.9,297.2 412.4,298.3 412.9,296.6 413.4,298.3 413.9,296.2 414.4,297.7 414.9,296.5 415.4,297.9 415.9,296.6 416.4,297.6 416.9,295.9 417.4,297.4 417.9,296.3 418.4,297.8 418.9,297.2 419.4,298.6 419.9,297.3 420.4,298.4 420.9,296.9 421.4,298.1 421.9,296.6 422.4,298.2 422.9,296.8 423.4,298.1 423.9,296.7 424.4,298.1 424.9,296.5 425.4,297.8 425.9,296.4 426.4,298.0 426.9,296.5 427.4,298.0 427.9,296.1 428.4,297.7 428.9,296.5 429.4,298.1 429.9,296.7 430.4,298.0 430.9,296.2 431.4,297.5 431.9,296.5 432.4,297.6 432.9,297.2 433.4,298.4 433.9,297.1 434.4,298.5 434.9,296.9 435.4,298.2 435.9,297.1 436.4,298.4 436.9,297.5 437.4,298.8 437.9,297.0 438.4,298.3 438.9,297.4 439.4,298.6 439.9,297.3 440.4,298.6 440.9,297.0 441.4,298.5 441.9,296.1 442.4,297.9 442.9,295.9 443.4,297.4 443.9,296.2 444.4,297.9 444.9,297.1 445.4,298.2 445.9,296.3 446.4,298.0 446.9,296.7 447.4,298.1 447.9,296.4 448.4,298.5 448.9,296.7 449.4,298.0 449.9,296.8 450.4,298.1 450.9,297.1 451.4,298.3 451.9,297.4 452.4,298.9 452.9,297.2 453.4,299.0 453.9,297.5 454.4,298.7 454.9,297.0 455.4,298.5 455.9,297.2 456.4,298.2"/>
<polyline stroke="#ff00ff" stroke-width="3.5" points="46.4,100 48.2,130 53.7,187 59.2,233 63.6,274"/>
<polyline stroke="#ff00ff" stroke-width="4.1" points="47.6,120 48.2,130 53.7,187 59.2,233 62.8,266"/>
<polyline stroke="#ff00ff" stroke-width="3.5" points="257.6,146 259.3,175 260.9,187 265.5,233 270.7,274"/>
<polyline stroke="#ff00ff" stroke-width="4.1" points="259.0,170 260.9,187 265.5,233 269.4,264"/>
</g>
<text x="43.4" y="340.2" font-size="12" text-anchor="middle">0</text>
<text x="125.9" y="340.2" font-size="12" text-anchor="middle">2000</text>
<text x="208.4" y="340.2" font-size="12" text-anchor="middle">4000</text>
<text x="290.8" y="340.2" font-size="12" text-anchor="middle">6000</text>
<text x="373.3" y="340.2" font-size="12" text-anchor="middle">8000</text>
<text x="455.8" y="340.2" font-size="12" text-anchor="middle">10000</text>
<text x="40.2" y="329.9" font-size="12" text-anchor="end">60</text>
<path d="M18.9 325.6H25.7" stroke="#000" stroke-width="1.3" fill="none"/>
<text x="40.2" y="284.2" font-size="12" text-anchor="end">50</text>
<path d="M18.9 279.8H25.7" stroke="#000" stroke-width="1.3" fill="none"/>
<text x="40.2" y="238.4" font-size="12" text-anchor="end">40</text>
<path d="M18.9 234.1H25.7" stroke="#000" stroke-width="1.3" fill="none"/>
<text x="40.2" y="192.7" font-size="12" text-anchor="end">30</text>
<path d="M18.9 188.3H25.7" stroke="#000" stroke-width="1.3" fill="none"/>
<text x="40.2" y="146.9" font-size="12" text-anchor="end">20</text>
<path d="M18.9 142.6H25.7" stroke="#000" stroke-width="1.3" fill="none"/>
<text x="40.2" y="101.2" font-size="12" text-anchor="end">10</text>
<path d="M18.9 96.8H25.7" stroke="#000" stroke-width="1.3" fill="none"/>
<text x="40.2" y="55.4" font-size="12" text-anchor="end">0</text>
<text x="40.2" y="9.7" font-size="12" text-anchor="end">10</text>
<text class="s" x="201.3" y="354.6" font-size="12.7" textLength="96.2" lengthAdjust="spacingAndGlyphs">Iteration Number</text>
<text class="s" transform="translate(10.3,197.4) rotate(-90)" font-size="12.7" textLength="66" lengthAdjust="spacingAndGlyphs">NMSD (dB)</text>
<text class="s" x="82.7" y="166" font-size="10.6" style="stroke-width:.25px" textLength="25.8" lengthAdjust="spacingAndGlyphs">Input:</text>
<text class="s" x="114.4" y="166" font-size="10.6" style="stroke-width:.25px" textLength="32.6" lengthAdjust="spacingAndGlyphs">Colored</text>
<text class="s" x="150.9" y="166" font-size="10.6" style="stroke-width:.25px" textLength="37.2" lengthAdjust="spacingAndGlyphs">Gaussian</text>
<text class="s" x="193.2" y="166" font-size="10.6" style="stroke-width:.25px" textLength="25.4" lengthAdjust="spacingAndGlyphs">AR(2)</text>
<rect x="251.5" y="10.4" width="201.3" height="128.4" fill="#fff" stroke="#000" stroke-width="1"/>
<path d="M258.1 21.6H296.8" stroke="#0000ff" stroke-width="3" fill="none"/>
<text class="s" x="300.9" y="25.0" font-size="12.7" textLength="53.3" lengthAdjust="spacingAndGlyphs">(a) NSAF</text>
<path d="M258.1 39.3H296.8" stroke="#ff0000" stroke-width="3" fill="none"/>
<text class="s" x="300.9" y="42.7" font-size="12.7" textLength="73.3" lengthAdjust="spacingAndGlyphs">(b) DS-NSAF</text>
<path d="M258.1 57.0H296.8" stroke="#ffff00" stroke-width="3" fill="none"/>
<text class="s" x="300.9" y="60.4" font-size="12.7" textLength="69.4" lengthAdjust="spacingAndGlyphs">(c) FS-NSAF</text>
<path d="M258.1 74.7H296.8" stroke="#00ff00" stroke-width="3" fill="none"/>
<text class="s" x="300.9" y="78.1" font-size="12.7" textLength="85.4" lengthAdjust="spacingAndGlyphs">(d) SPU-NSAF,</text>
<text class="s" x="391.2" y="78.1" font-size="12.7" font-style="italic" textLength="8.6" lengthAdjust="spacingAndGlyphs">S</text>
<text class="s" x="403.7" y="78.1" font-size="12.7" textLength="9.2" lengthAdjust="spacingAndGlyphs">=</text>
<text class="s" x="415.8" y="78.1" font-size="12.7">3</text>
<path d="M258.1 92.4H296.8" stroke="#00ffff" stroke-width="3" fill="none"/>
<text class="s" x="300.9" y="95.8" font-size="12.7" textLength="85.4" lengthAdjust="spacingAndGlyphs">(e) SPU-NSAF,</text>
<text class="s" x="391.2" y="95.8" font-size="12.7" font-style="italic" textLength="8.6" lengthAdjust="spacingAndGlyphs">S</text>
<text class="s" x="403.7" y="95.8" font-size="12.7" textLength="9.2" lengthAdjust="spacingAndGlyphs">=</text>
<text class="s" x="415.8" y="95.8" font-size="12.7">2</text>
<path d="M258.1 110.1H296.8" stroke="#000000" stroke-width="3" fill="none"/>
<text class="s" x="300.9" y="113.5" font-size="12.7" textLength="126.7" lengthAdjust="spacingAndGlyphs">(f) Proposed SR-NSAF</text>
<path d="M258.1 127.8H296.8" stroke="#ff00ff" stroke-width="3" fill="none"/>
<text class="s" x="300.9" y="131.2" font-size="12.7" textLength="140.2" lengthAdjust="spacingAndGlyphs">(g) Proposed MSR-NSAF</text>
<text class="s" x="107.3" y="262.6" font-size="12.7" style="stroke-width:.2px" text-anchor="middle" textLength="15.2" lengthAdjust="spacingAndGlyphs">(a)</text>
<path d="M107.3 266.0V297.7" stroke="#000" stroke-width="3" fill="none"/>
<path d="M107.3 305.5L102.2 292.9L107.3 296.5L112.4 292.9Z" fill="#000" stroke="#000" stroke-width="1.6" stroke-linejoin="round"/>
<text class="s" x="126.0" y="261.9" font-size="12.7" style="stroke-width:.2px" text-anchor="middle" textLength="15.2" lengthAdjust="spacingAndGlyphs">(b)</text>
<path d="M126.0 265.4V296.3" stroke="#000" stroke-width="3" fill="none"/>
<path d="M126.0 304.1L120.9 291.5L126.0 295.1L131.1 291.5Z" fill="#000" stroke="#000" stroke-width="1.6" stroke-linejoin="round"/>
<text class="s" x="147.9" y="260.8" font-size="12.7" style="stroke-width:.2px" text-anchor="middle" textLength="15.2" lengthAdjust="spacingAndGlyphs">(c)</text>
<path d="M147.9 264.3V295.8" stroke="#000" stroke-width="3" fill="none"/>
<path d="M147.9 303.6L142.8 291.0L147.9 294.6L153.0 291.0Z" fill="#000" stroke="#000" stroke-width="1.6" stroke-linejoin="round"/>
<text class="s" x="214.4" y="253.1" font-size="12.7" style="stroke-width:.2px" text-anchor="middle" textLength="15.2" lengthAdjust="spacingAndGlyphs">(g)</text>
<path d="M214.4 256.0V288.1" stroke="#000" stroke-width="3" fill="none"/>
<path d="M214.4 295.9L209.3 283.3L214.4 286.9L219.5 283.3Z" fill="#000" stroke="#000" stroke-width="1.6" stroke-linejoin="round"/>
<text class="s" x="306.0" y="256.7" font-size="12.7" style="stroke-width:.2px" text-anchor="middle" textLength="15.2" lengthAdjust="spacingAndGlyphs">(d)</text>
<path d="M306.0 260.0V291.6" stroke="#000" stroke-width="3" fill="none"/>
<path d="M306.0 299.4L300.9 286.8L306.0 290.4L311.1 286.8Z" fill="#000" stroke="#000" stroke-width="1.6" stroke-linejoin="round"/>
<text class="s" x="335.3" y="253.6" font-size="12.7" style="stroke-width:.2px" text-anchor="middle" textLength="15.2" lengthAdjust="spacingAndGlyphs">(e)</text>
<path d="M335.3 257.0V282.0" stroke="#000" stroke-width="3" fill="none"/>
<path d="M335.3 289.8L330.2 277.2L335.3 280.8L340.4 277.2Z" fill="#000" stroke="#000" stroke-width="1.6" stroke-linejoin="round"/>
<text class="s" x="360.2" y="254.1" font-size="12.7" style="stroke-width:.2px" text-anchor="middle" textLength="15.2" lengthAdjust="spacingAndGlyphs">(f)</text>
<path d="M360.2 257.0V282.6" stroke="#000" stroke-width="3" fill="none"/>
<path d="M360.2 290.4L355.1 277.8L360.2 281.4L365.3 277.8Z" fill="#000" stroke="#000" stroke-width="1.6" stroke-linejoin="round"/>
</svg></body></html>
